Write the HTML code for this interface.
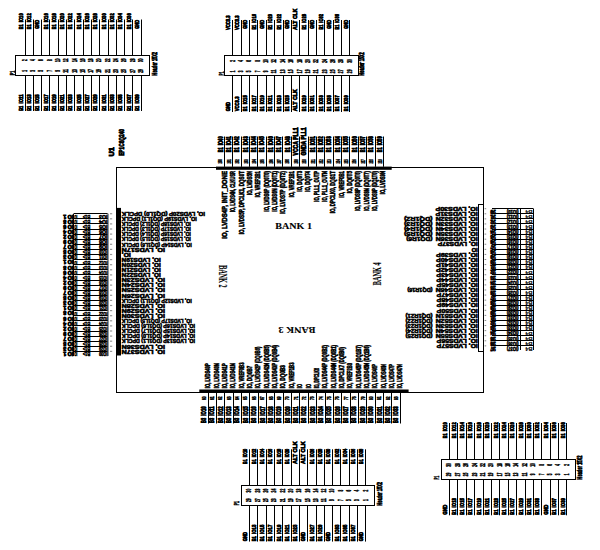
<!DOCTYPE html>
<html><head><meta charset="utf-8"><title>schematic</title>
<style>
html,body{margin:0;padding:0;background:#fff;width:600px;height:550px;overflow:hidden}
svg{display:block}
text{font-family:"Liberation Sans",sans-serif;font-weight:bold;fill:#000}
text.t{stroke:#000;stroke-width:0.8}
text.s{stroke:#000;stroke-width:0.5}
text.r{stroke:#000;stroke-width:0.15}
text.m{stroke:#000;stroke-width:0.6}
text.n{fill:#000;stroke:#000;stroke-width:0.5}
text.b{font-family:"Liberation Serif",serif;font-weight:bold;stroke:#000;stroke-width:0.1}
</style></head><body>
<svg width="600" height="550" viewBox="0 0 600 550">
<rect x="0" y="0" width="600" height="550" fill="#fff"/>
<rect x="15.5" y="55.5" width="134" height="20" fill="none" stroke="#000" stroke-width="1"/>
<line x1="25.5" y1="19.5" x2="25.5" y2="55.3" stroke="#000" stroke-width="1"/>
<line x1="25.5" y1="75.5" x2="25.5" y2="111" stroke="#000" stroke-width="1"/>
<line x1="33.5" y1="19.5" x2="33.5" y2="55.3" stroke="#000" stroke-width="1"/>
<line x1="33.5" y1="75.5" x2="33.5" y2="111" stroke="#000" stroke-width="1"/>
<line x1="41.5" y1="19.5" x2="41.5" y2="55.3" stroke="#000" stroke-width="1"/>
<line x1="41.5" y1="75.5" x2="41.5" y2="111" stroke="#000" stroke-width="1"/>
<line x1="49.5" y1="19.5" x2="49.5" y2="55.3" stroke="#000" stroke-width="1"/>
<line x1="49.5" y1="75.5" x2="49.5" y2="111" stroke="#000" stroke-width="1"/>
<line x1="58.5" y1="19.5" x2="58.5" y2="55.3" stroke="#000" stroke-width="1"/>
<line x1="58.5" y1="75.5" x2="58.5" y2="111" stroke="#000" stroke-width="1"/>
<line x1="66.5" y1="19.5" x2="66.5" y2="55.3" stroke="#000" stroke-width="1"/>
<line x1="66.5" y1="75.5" x2="66.5" y2="111" stroke="#000" stroke-width="1"/>
<line x1="74.5" y1="19.5" x2="74.5" y2="55.3" stroke="#000" stroke-width="1"/>
<line x1="74.5" y1="75.5" x2="74.5" y2="111" stroke="#000" stroke-width="1"/>
<line x1="83.5" y1="19.5" x2="83.5" y2="55.3" stroke="#000" stroke-width="1"/>
<line x1="83.5" y1="75.5" x2="83.5" y2="111" stroke="#000" stroke-width="1"/>
<line x1="91.5" y1="19.5" x2="91.5" y2="55.3" stroke="#000" stroke-width="1"/>
<line x1="91.5" y1="75.5" x2="91.5" y2="111" stroke="#000" stroke-width="1"/>
<line x1="99.5" y1="19.5" x2="99.5" y2="55.3" stroke="#000" stroke-width="1"/>
<line x1="99.5" y1="75.5" x2="99.5" y2="111" stroke="#000" stroke-width="1"/>
<line x1="108.5" y1="19.5" x2="108.5" y2="55.3" stroke="#000" stroke-width="1"/>
<line x1="108.5" y1="75.5" x2="108.5" y2="111" stroke="#000" stroke-width="1"/>
<line x1="116.5" y1="19.5" x2="116.5" y2="55.3" stroke="#000" stroke-width="1"/>
<line x1="116.5" y1="75.5" x2="116.5" y2="111" stroke="#000" stroke-width="1"/>
<line x1="124.5" y1="19.5" x2="124.5" y2="55.3" stroke="#000" stroke-width="1"/>
<line x1="124.5" y1="75.5" x2="124.5" y2="111" stroke="#000" stroke-width="1"/>
<line x1="132.5" y1="19.5" x2="132.5" y2="55.3" stroke="#000" stroke-width="1"/>
<line x1="132.5" y1="75.5" x2="132.5" y2="111" stroke="#000" stroke-width="1"/>
<line x1="141.5" y1="19.5" x2="141.5" y2="55.3" stroke="#000" stroke-width="1"/>
<line x1="141.5" y1="75.5" x2="141.5" y2="111" stroke="#000" stroke-width="1"/>
<text class="t" transform="rotate(-90 20.55 26.82)" x="18.07" y="28.97" font-size="6.14" textLength="4.96" lengthAdjust="spacingAndGlyphs">B1</text>
<text class="t" transform="rotate(-90 20.55 17.78)" x="16.07" y="19.93" font-size="6.14" textLength="8.96" lengthAdjust="spacingAndGlyphs">IO10</text>
<text class="t" transform="rotate(-90 20.55 108.24)" x="17.99" y="110.39" font-size="6.14" textLength="5.11" lengthAdjust="spacingAndGlyphs">B1</text>
<text class="t" transform="rotate(-90 20.55 98.92)" x="15.93" y="101.07" font-size="6.14" textLength="9.24" lengthAdjust="spacingAndGlyphs">IO11</text>
<text class="t" transform="rotate(-90 28.85 26.82)" x="26.37" y="28.97" font-size="6.14" textLength="4.96" lengthAdjust="spacingAndGlyphs">B1</text>
<text class="t" transform="rotate(-90 28.85 17.78)" x="24.37" y="19.93" font-size="6.14" textLength="8.96" lengthAdjust="spacingAndGlyphs">IO12</text>
<text class="t" transform="rotate(-90 28.85 108.24)" x="26.29" y="110.39" font-size="6.14" textLength="5.11" lengthAdjust="spacingAndGlyphs">B1</text>
<text class="t" transform="rotate(-90 28.85 98.92)" x="24.23" y="101.07" font-size="6.14" textLength="9.24" lengthAdjust="spacingAndGlyphs">IO13</text>
<text class="t" transform="rotate(-90 37.15 24.35)" x="32.8" y="26.5" font-size="6.14" textLength="8.7" lengthAdjust="spacingAndGlyphs">GND</text>
<text class="t" transform="rotate(-90 37.15 108.24)" x="34.59" y="110.39" font-size="6.14" textLength="5.11" lengthAdjust="spacingAndGlyphs">B1</text>
<text class="t" transform="rotate(-90 37.15 98.92)" x="32.53" y="101.07" font-size="6.14" textLength="9.24" lengthAdjust="spacingAndGlyphs">IO15</text>
<text class="t" transform="rotate(-90 45.45 26.82)" x="42.97" y="28.97" font-size="6.14" textLength="4.96" lengthAdjust="spacingAndGlyphs">B1</text>
<text class="t" transform="rotate(-90 45.45 17.78)" x="40.97" y="19.93" font-size="6.14" textLength="8.96" lengthAdjust="spacingAndGlyphs">IO16</text>
<text class="t" transform="rotate(-90 45.45 108.24)" x="42.89" y="110.39" font-size="6.14" textLength="5.11" lengthAdjust="spacingAndGlyphs">B1</text>
<text class="t" transform="rotate(-90 45.45 98.92)" x="40.83" y="101.07" font-size="6.14" textLength="9.24" lengthAdjust="spacingAndGlyphs">IO17</text>
<text class="t" transform="rotate(-90 53.75 26.82)" x="51.27" y="28.97" font-size="6.14" textLength="4.96" lengthAdjust="spacingAndGlyphs">B1</text>
<text class="t" transform="rotate(-90 53.75 17.78)" x="49.27" y="19.93" font-size="6.14" textLength="8.96" lengthAdjust="spacingAndGlyphs">IO18</text>
<text class="t" transform="rotate(-90 53.75 108.24)" x="51.19" y="110.39" font-size="6.14" textLength="5.11" lengthAdjust="spacingAndGlyphs">B1</text>
<text class="t" transform="rotate(-90 53.75 98.92)" x="49.13" y="101.07" font-size="6.14" textLength="9.24" lengthAdjust="spacingAndGlyphs">IO19</text>
<text class="t" transform="rotate(-90 62.05 26.82)" x="59.57" y="28.97" font-size="6.14" textLength="4.96" lengthAdjust="spacingAndGlyphs">B1</text>
<text class="t" transform="rotate(-90 62.05 17.78)" x="57.57" y="19.93" font-size="6.14" textLength="8.96" lengthAdjust="spacingAndGlyphs">IO20</text>
<text class="t" transform="rotate(-90 62.05 108.24)" x="59.49" y="110.39" font-size="6.14" textLength="5.11" lengthAdjust="spacingAndGlyphs">B1</text>
<text class="t" transform="rotate(-90 62.05 98.92)" x="57.43" y="101.07" font-size="6.14" textLength="9.24" lengthAdjust="spacingAndGlyphs">IO21</text>
<text class="t" transform="rotate(-90 70.35 26.82)" x="67.87" y="28.97" font-size="6.14" textLength="4.96" lengthAdjust="spacingAndGlyphs">B1</text>
<text class="t" transform="rotate(-90 70.35 17.78)" x="65.87" y="19.93" font-size="6.14" textLength="8.96" lengthAdjust="spacingAndGlyphs">IO22</text>
<text class="t" transform="rotate(-90 70.35 108.24)" x="67.79" y="110.39" font-size="6.14" textLength="5.11" lengthAdjust="spacingAndGlyphs">B1</text>
<text class="t" transform="rotate(-90 70.35 98.92)" x="65.73" y="101.07" font-size="6.14" textLength="9.24" lengthAdjust="spacingAndGlyphs">IO23</text>
<text class="t" transform="rotate(-90 78.65 26.82)" x="76.17" y="28.97" font-size="6.14" textLength="4.96" lengthAdjust="spacingAndGlyphs">B1</text>
<text class="t" transform="rotate(-90 78.65 17.78)" x="74.17" y="19.93" font-size="6.14" textLength="8.96" lengthAdjust="spacingAndGlyphs">IO24</text>
<text class="t" transform="rotate(-90 78.65 108.24)" x="76.09" y="110.39" font-size="6.14" textLength="5.11" lengthAdjust="spacingAndGlyphs">B1</text>
<text class="t" transform="rotate(-90 78.65 98.92)" x="74.03" y="101.07" font-size="6.14" textLength="9.24" lengthAdjust="spacingAndGlyphs">IO25</text>
<text class="t" transform="rotate(-90 86.95 26.82)" x="84.47" y="28.97" font-size="6.14" textLength="4.96" lengthAdjust="spacingAndGlyphs">B1</text>
<text class="t" transform="rotate(-90 86.95 17.78)" x="82.47" y="19.93" font-size="6.14" textLength="8.96" lengthAdjust="spacingAndGlyphs">IO26</text>
<text class="t" transform="rotate(-90 86.95 108.24)" x="84.39" y="110.39" font-size="6.14" textLength="5.11" lengthAdjust="spacingAndGlyphs">B1</text>
<text class="t" transform="rotate(-90 86.95 98.92)" x="82.33" y="101.07" font-size="6.14" textLength="9.24" lengthAdjust="spacingAndGlyphs">IO27</text>
<text class="t" transform="rotate(-90 95.25 26.82)" x="92.77" y="28.97" font-size="6.14" textLength="4.96" lengthAdjust="spacingAndGlyphs">B1</text>
<text class="t" transform="rotate(-90 95.25 17.78)" x="90.77" y="19.93" font-size="6.14" textLength="8.96" lengthAdjust="spacingAndGlyphs">IO28</text>
<text class="t" transform="rotate(-90 95.25 108.24)" x="92.69" y="110.39" font-size="6.14" textLength="5.11" lengthAdjust="spacingAndGlyphs">B1</text>
<text class="t" transform="rotate(-90 95.25 98.92)" x="90.63" y="101.07" font-size="6.14" textLength="9.24" lengthAdjust="spacingAndGlyphs">IO29</text>
<text class="t" transform="rotate(-90 103.55 26.82)" x="101.07" y="28.97" font-size="6.14" textLength="4.96" lengthAdjust="spacingAndGlyphs">B1</text>
<text class="t" transform="rotate(-90 103.55 17.78)" x="99.07" y="19.93" font-size="6.14" textLength="8.96" lengthAdjust="spacingAndGlyphs">IO30</text>
<text class="t" transform="rotate(-90 103.55 108.24)" x="100.99" y="110.39" font-size="6.14" textLength="5.11" lengthAdjust="spacingAndGlyphs">B1</text>
<text class="t" transform="rotate(-90 103.55 98.92)" x="98.93" y="101.07" font-size="6.14" textLength="9.24" lengthAdjust="spacingAndGlyphs">IO31</text>
<text class="t" transform="rotate(-90 111.85 26.82)" x="109.37" y="28.97" font-size="6.14" textLength="4.96" lengthAdjust="spacingAndGlyphs">B1</text>
<text class="t" transform="rotate(-90 111.85 17.78)" x="107.37" y="19.93" font-size="6.14" textLength="8.96" lengthAdjust="spacingAndGlyphs">IO32</text>
<text class="t" transform="rotate(-90 111.85 108.24)" x="109.29" y="110.39" font-size="6.14" textLength="5.11" lengthAdjust="spacingAndGlyphs">B1</text>
<text class="t" transform="rotate(-90 111.85 98.92)" x="107.23" y="101.07" font-size="6.14" textLength="9.24" lengthAdjust="spacingAndGlyphs">IO33</text>
<text class="t" transform="rotate(-90 120.15 26.82)" x="117.67" y="28.97" font-size="6.14" textLength="4.96" lengthAdjust="spacingAndGlyphs">B1</text>
<text class="t" transform="rotate(-90 120.15 17.78)" x="115.67" y="19.93" font-size="6.14" textLength="8.96" lengthAdjust="spacingAndGlyphs">IO34</text>
<text class="t" transform="rotate(-90 120.15 108.24)" x="117.59" y="110.39" font-size="6.14" textLength="5.11" lengthAdjust="spacingAndGlyphs">B1</text>
<text class="t" transform="rotate(-90 120.15 98.92)" x="115.53" y="101.07" font-size="6.14" textLength="9.24" lengthAdjust="spacingAndGlyphs">IO35</text>
<text class="t" transform="rotate(-90 128.45 26.82)" x="125.97" y="28.97" font-size="6.14" textLength="4.96" lengthAdjust="spacingAndGlyphs">B1</text>
<text class="t" transform="rotate(-90 128.45 17.78)" x="123.97" y="19.93" font-size="6.14" textLength="8.96" lengthAdjust="spacingAndGlyphs">IO36</text>
<text class="t" transform="rotate(-90 128.45 108.24)" x="125.89" y="110.39" font-size="6.14" textLength="5.11" lengthAdjust="spacingAndGlyphs">B1</text>
<text class="t" transform="rotate(-90 128.45 98.92)" x="123.83" y="101.07" font-size="6.14" textLength="9.24" lengthAdjust="spacingAndGlyphs">IO37</text>
<text class="t" transform="rotate(-90 136.75 24.35)" x="132.4" y="26.5" font-size="6.14" textLength="8.7" lengthAdjust="spacingAndGlyphs">GND</text>
<text class="t" transform="rotate(-90 136.75 108.24)" x="134.19" y="110.39" font-size="6.14" textLength="5.11" lengthAdjust="spacingAndGlyphs">B1</text>
<text class="t" transform="rotate(-90 136.75 98.92)" x="132.13" y="101.07" font-size="6.14" textLength="9.24" lengthAdjust="spacingAndGlyphs">IO39</text>
<text class="n" transform="rotate(-90 24.45 60.2)" x="23.6" y="62.55" font-size="6.71" textLength="1.7" lengthAdjust="spacingAndGlyphs">2</text>
<text class="n" transform="rotate(-90 24.45 71)" x="23.6" y="73.35" font-size="6.71" textLength="1.7" lengthAdjust="spacingAndGlyphs">1</text>
<text class="n" transform="rotate(-90 32.75 60.2)" x="31.9" y="62.55" font-size="6.71" textLength="1.7" lengthAdjust="spacingAndGlyphs">4</text>
<text class="n" transform="rotate(-90 32.75 71)" x="31.9" y="73.35" font-size="6.71" textLength="1.7" lengthAdjust="spacingAndGlyphs">3</text>
<text class="n" transform="rotate(-90 41.05 60.2)" x="40.2" y="62.55" font-size="6.71" textLength="1.7" lengthAdjust="spacingAndGlyphs">6</text>
<text class="n" transform="rotate(-90 41.05 71)" x="40.2" y="73.35" font-size="6.71" textLength="1.7" lengthAdjust="spacingAndGlyphs">5</text>
<text class="n" transform="rotate(-90 49.35 60.2)" x="48.5" y="62.55" font-size="6.71" textLength="1.7" lengthAdjust="spacingAndGlyphs">8</text>
<text class="n" transform="rotate(-90 49.35 71)" x="48.5" y="73.35" font-size="6.71" textLength="1.7" lengthAdjust="spacingAndGlyphs">7</text>
<text class="n" transform="rotate(-90 57.65 60.2)" x="55.8" y="62.55" font-size="6.71" textLength="3.7" lengthAdjust="spacingAndGlyphs">10</text>
<text class="n" transform="rotate(-90 57.65 71)" x="56.8" y="73.35" font-size="6.71" textLength="1.7" lengthAdjust="spacingAndGlyphs">9</text>
<text class="n" transform="rotate(-90 65.95 60.2)" x="64.1" y="62.55" font-size="6.71" textLength="3.7" lengthAdjust="spacingAndGlyphs">12</text>
<text class="n" transform="rotate(-90 65.95 71)" x="64.1" y="73.35" font-size="6.71" textLength="3.7" lengthAdjust="spacingAndGlyphs">11</text>
<text class="n" transform="rotate(-90 74.25 60.2)" x="72.4" y="62.55" font-size="6.71" textLength="3.7" lengthAdjust="spacingAndGlyphs">14</text>
<text class="n" transform="rotate(-90 74.25 71)" x="72.4" y="73.35" font-size="6.71" textLength="3.7" lengthAdjust="spacingAndGlyphs">13</text>
<text class="n" transform="rotate(-90 82.55 60.2)" x="80.7" y="62.55" font-size="6.71" textLength="3.7" lengthAdjust="spacingAndGlyphs">16</text>
<text class="n" transform="rotate(-90 82.55 71)" x="80.7" y="73.35" font-size="6.71" textLength="3.7" lengthAdjust="spacingAndGlyphs">15</text>
<text class="n" transform="rotate(-90 90.85 60.2)" x="89" y="62.55" font-size="6.71" textLength="3.7" lengthAdjust="spacingAndGlyphs">18</text>
<text class="n" transform="rotate(-90 90.85 71)" x="89" y="73.35" font-size="6.71" textLength="3.7" lengthAdjust="spacingAndGlyphs">17</text>
<text class="n" transform="rotate(-90 99.15 60.2)" x="97.3" y="62.55" font-size="6.71" textLength="3.7" lengthAdjust="spacingAndGlyphs">20</text>
<text class="n" transform="rotate(-90 99.15 71)" x="97.3" y="73.35" font-size="6.71" textLength="3.7" lengthAdjust="spacingAndGlyphs">19</text>
<text class="n" transform="rotate(-90 107.45 60.2)" x="105.6" y="62.55" font-size="6.71" textLength="3.7" lengthAdjust="spacingAndGlyphs">22</text>
<text class="n" transform="rotate(-90 107.45 71)" x="105.6" y="73.35" font-size="6.71" textLength="3.7" lengthAdjust="spacingAndGlyphs">21</text>
<text class="n" transform="rotate(-90 115.75 60.2)" x="113.9" y="62.55" font-size="6.71" textLength="3.7" lengthAdjust="spacingAndGlyphs">24</text>
<text class="n" transform="rotate(-90 115.75 71)" x="113.9" y="73.35" font-size="6.71" textLength="3.7" lengthAdjust="spacingAndGlyphs">23</text>
<text class="n" transform="rotate(-90 124.05 60.2)" x="122.2" y="62.55" font-size="6.71" textLength="3.7" lengthAdjust="spacingAndGlyphs">26</text>
<text class="n" transform="rotate(-90 124.05 71)" x="122.2" y="73.35" font-size="6.71" textLength="3.7" lengthAdjust="spacingAndGlyphs">25</text>
<text class="n" transform="rotate(-90 132.35 60.2)" x="130.5" y="62.55" font-size="6.71" textLength="3.7" lengthAdjust="spacingAndGlyphs">28</text>
<text class="n" transform="rotate(-90 132.35 71)" x="130.5" y="73.35" font-size="6.71" textLength="3.7" lengthAdjust="spacingAndGlyphs">27</text>
<text class="n" transform="rotate(-90 140.65 60.2)" x="138.8" y="62.55" font-size="6.71" textLength="3.7" lengthAdjust="spacingAndGlyphs">30</text>
<text class="n" transform="rotate(-90 140.65 71)" x="138.8" y="73.35" font-size="6.71" textLength="3.7" lengthAdjust="spacingAndGlyphs">29</text>
<text class="n" transform="rotate(-90 12.4 73)" x="10.2" y="75.2" font-size="6.29" textLength="4.4" lengthAdjust="spacingAndGlyphs">P1</text>
<text class="t" transform="rotate(-90 154.3 63.7)" x="142.6" y="66.2" font-size="7.14" textLength="23.4" lengthAdjust="spacingAndGlyphs">Header 15X2</text>
<rect x="224.5" y="55.5" width="134" height="20" fill="none" stroke="#000" stroke-width="1"/>
<line x1="232.5" y1="20" x2="232.5" y2="55.7" stroke="#000" stroke-width="1"/>
<line x1="232.5" y1="75.7" x2="232.5" y2="112" stroke="#000" stroke-width="1"/>
<line x1="241.5" y1="20" x2="241.5" y2="55.7" stroke="#000" stroke-width="1"/>
<line x1="241.5" y1="75.7" x2="241.5" y2="112" stroke="#000" stroke-width="1"/>
<line x1="249.5" y1="20" x2="249.5" y2="55.7" stroke="#000" stroke-width="1"/>
<line x1="249.5" y1="75.7" x2="249.5" y2="112" stroke="#000" stroke-width="1"/>
<line x1="257.5" y1="20" x2="257.5" y2="55.7" stroke="#000" stroke-width="1"/>
<line x1="257.5" y1="75.7" x2="257.5" y2="112" stroke="#000" stroke-width="1"/>
<line x1="266.5" y1="20" x2="266.5" y2="55.7" stroke="#000" stroke-width="1"/>
<line x1="266.5" y1="75.7" x2="266.5" y2="112" stroke="#000" stroke-width="1"/>
<line x1="274.5" y1="20" x2="274.5" y2="55.7" stroke="#000" stroke-width="1"/>
<line x1="274.5" y1="75.7" x2="274.5" y2="112" stroke="#000" stroke-width="1"/>
<line x1="283.5" y1="20" x2="283.5" y2="55.7" stroke="#000" stroke-width="1"/>
<line x1="283.5" y1="75.7" x2="283.5" y2="112" stroke="#000" stroke-width="1"/>
<line x1="291.5" y1="20" x2="291.5" y2="55.7" stroke="#000" stroke-width="1"/>
<line x1="291.5" y1="75.7" x2="291.5" y2="112" stroke="#000" stroke-width="1"/>
<line x1="299.5" y1="20" x2="299.5" y2="55.7" stroke="#000" stroke-width="1"/>
<line x1="299.5" y1="75.7" x2="299.5" y2="112" stroke="#000" stroke-width="1"/>
<line x1="308.5" y1="20" x2="308.5" y2="55.7" stroke="#000" stroke-width="1"/>
<line x1="308.5" y1="75.7" x2="308.5" y2="112" stroke="#000" stroke-width="1"/>
<line x1="316.5" y1="20" x2="316.5" y2="55.7" stroke="#000" stroke-width="1"/>
<line x1="316.5" y1="75.7" x2="316.5" y2="112" stroke="#000" stroke-width="1"/>
<line x1="324.5" y1="20" x2="324.5" y2="55.7" stroke="#000" stroke-width="1"/>
<line x1="324.5" y1="75.7" x2="324.5" y2="112" stroke="#000" stroke-width="1"/>
<line x1="333.5" y1="20" x2="333.5" y2="55.7" stroke="#000" stroke-width="1"/>
<line x1="333.5" y1="75.7" x2="333.5" y2="112" stroke="#000" stroke-width="1"/>
<line x1="341.5" y1="20" x2="341.5" y2="55.7" stroke="#000" stroke-width="1"/>
<line x1="341.5" y1="75.7" x2="341.5" y2="112" stroke="#000" stroke-width="1"/>
<line x1="349.5" y1="20" x2="349.5" y2="55.7" stroke="#000" stroke-width="1"/>
<line x1="349.5" y1="75.7" x2="349.5" y2="112" stroke="#000" stroke-width="1"/>
<text class="t" transform="rotate(-90 228.35 22.65)" x="221" y="24.8" font-size="6.14" textLength="14.7" lengthAdjust="spacingAndGlyphs">VCC3.3</text>
<text class="t" transform="rotate(-90 228.35 106.65)" x="223.7" y="108.8" font-size="6.14" textLength="9.3" lengthAdjust="spacingAndGlyphs">GND</text>
<text class="t" transform="rotate(-90 236.72 22.65)" x="229.37" y="24.8" font-size="6.14" textLength="14.7" lengthAdjust="spacingAndGlyphs">VCC3.3</text>
<text class="t" transform="rotate(-90 236.72 103.9)" x="229.32" y="106.05" font-size="6.14" textLength="14.8" lengthAdjust="spacingAndGlyphs">VCC3.3</text>
<text class="t" transform="rotate(-90 245.09 24.35)" x="240.74" y="26.5" font-size="6.14" textLength="8.7" lengthAdjust="spacingAndGlyphs">GND</text>
<text class="t" transform="rotate(-90 245.09 108.82)" x="242.61" y="110.97" font-size="6.14" textLength="4.96" lengthAdjust="spacingAndGlyphs">B1</text>
<text class="t" transform="rotate(-90 245.09 99.78)" x="240.61" y="101.93" font-size="6.14" textLength="8.96" lengthAdjust="spacingAndGlyphs">IO15</text>
<text class="t" transform="rotate(-90 253.46 27.18)" x="251.04" y="29.33" font-size="6.14" textLength="4.84" lengthAdjust="spacingAndGlyphs">B1</text>
<text class="t" transform="rotate(-90 253.46 18.37)" x="249.09" y="20.52" font-size="6.14" textLength="8.74" lengthAdjust="spacingAndGlyphs">IO16</text>
<text class="t" transform="rotate(-90 253.46 108.82)" x="250.98" y="110.97" font-size="6.14" textLength="4.96" lengthAdjust="spacingAndGlyphs">B1</text>
<text class="t" transform="rotate(-90 253.46 99.78)" x="248.98" y="101.93" font-size="6.14" textLength="8.96" lengthAdjust="spacingAndGlyphs">IO17</text>
<text class="t" transform="rotate(-90 261.83 24.35)" x="257.48" y="26.5" font-size="6.14" textLength="8.7" lengthAdjust="spacingAndGlyphs">GND</text>
<text class="t" transform="rotate(-90 261.83 108.82)" x="259.35" y="110.97" font-size="6.14" textLength="4.96" lengthAdjust="spacingAndGlyphs">B1</text>
<text class="t" transform="rotate(-90 261.83 99.78)" x="257.35" y="101.93" font-size="6.14" textLength="8.96" lengthAdjust="spacingAndGlyphs">IO19</text>
<text class="t" transform="rotate(-90 270.2 27.18)" x="267.78" y="29.33" font-size="6.14" textLength="4.84" lengthAdjust="spacingAndGlyphs">B1</text>
<text class="t" transform="rotate(-90 270.2 18.37)" x="265.83" y="20.52" font-size="6.14" textLength="8.74" lengthAdjust="spacingAndGlyphs">IO20</text>
<text class="t" transform="rotate(-90 270.2 108.82)" x="267.72" y="110.97" font-size="6.14" textLength="4.96" lengthAdjust="spacingAndGlyphs">B1</text>
<text class="t" transform="rotate(-90 270.2 99.78)" x="265.72" y="101.93" font-size="6.14" textLength="8.96" lengthAdjust="spacingAndGlyphs">IO21</text>
<text class="t" transform="rotate(-90 278.57 27.18)" x="276.15" y="29.33" font-size="6.14" textLength="4.84" lengthAdjust="spacingAndGlyphs">B1</text>
<text class="t" transform="rotate(-90 278.57 18.37)" x="274.2" y="20.52" font-size="6.14" textLength="8.74" lengthAdjust="spacingAndGlyphs">IO22</text>
<text class="t" transform="rotate(-90 278.57 108.82)" x="276.09" y="110.97" font-size="6.14" textLength="4.96" lengthAdjust="spacingAndGlyphs">B1</text>
<text class="t" transform="rotate(-90 278.57 99.78)" x="274.09" y="101.93" font-size="6.14" textLength="8.96" lengthAdjust="spacingAndGlyphs">IO23</text>
<text class="t" transform="rotate(-90 286.94 24.35)" x="282.59" y="26.5" font-size="6.14" textLength="8.7" lengthAdjust="spacingAndGlyphs">GND</text>
<text class="t" transform="rotate(-90 286.94 108.82)" x="284.46" y="110.97" font-size="6.14" textLength="4.96" lengthAdjust="spacingAndGlyphs">B1</text>
<text class="t" transform="rotate(-90 286.94 99.78)" x="282.46" y="101.93" font-size="6.14" textLength="8.96" lengthAdjust="spacingAndGlyphs">IO25</text>
<text class="t" transform="rotate(-90 295.31 19.35)" x="284.66" y="21.5" font-size="6.14" textLength="21.3" lengthAdjust="spacingAndGlyphs">ALT CLK</text>
<text class="t" transform="rotate(-90 295.31 100.3)" x="284.31" y="102.45" font-size="6.14" textLength="22" lengthAdjust="spacingAndGlyphs">ALT CLK</text>
<text class="t" transform="rotate(-90 303.68 27.18)" x="301.26" y="29.33" font-size="6.14" textLength="4.84" lengthAdjust="spacingAndGlyphs">B1</text>
<text class="t" transform="rotate(-90 303.68 18.37)" x="299.31" y="20.52" font-size="6.14" textLength="8.74" lengthAdjust="spacingAndGlyphs">IO28</text>
<text class="t" transform="rotate(-90 303.68 108.82)" x="301.2" y="110.97" font-size="6.14" textLength="4.96" lengthAdjust="spacingAndGlyphs">B1</text>
<text class="t" transform="rotate(-90 303.68 99.78)" x="299.2" y="101.93" font-size="6.14" textLength="8.96" lengthAdjust="spacingAndGlyphs">IO29</text>
<text class="t" transform="rotate(-90 312.05 24.35)" x="307.7" y="26.5" font-size="6.14" textLength="8.7" lengthAdjust="spacingAndGlyphs">GND</text>
<text class="t" transform="rotate(-90 312.05 108.82)" x="309.57" y="110.97" font-size="6.14" textLength="4.96" lengthAdjust="spacingAndGlyphs">B1</text>
<text class="t" transform="rotate(-90 312.05 99.78)" x="307.57" y="101.93" font-size="6.14" textLength="8.96" lengthAdjust="spacingAndGlyphs">IO31</text>
<text class="t" transform="rotate(-90 320.42 27.18)" x="318" y="29.33" font-size="6.14" textLength="4.84" lengthAdjust="spacingAndGlyphs">B1</text>
<text class="t" transform="rotate(-90 320.42 18.37)" x="316.05" y="20.52" font-size="6.14" textLength="8.74" lengthAdjust="spacingAndGlyphs">IO32</text>
<text class="t" transform="rotate(-90 320.42 108.82)" x="317.94" y="110.97" font-size="6.14" textLength="4.96" lengthAdjust="spacingAndGlyphs">B1</text>
<text class="t" transform="rotate(-90 320.42 99.78)" x="315.94" y="101.93" font-size="6.14" textLength="8.96" lengthAdjust="spacingAndGlyphs">IO33</text>
<text class="t" transform="rotate(-90 328.79 24.35)" x="324.44" y="26.5" font-size="6.14" textLength="8.7" lengthAdjust="spacingAndGlyphs">GND</text>
<text class="t" transform="rotate(-90 328.79 108.82)" x="326.31" y="110.97" font-size="6.14" textLength="4.96" lengthAdjust="spacingAndGlyphs">B1</text>
<text class="t" transform="rotate(-90 328.79 99.78)" x="324.31" y="101.93" font-size="6.14" textLength="8.96" lengthAdjust="spacingAndGlyphs">IO35</text>
<text class="t" transform="rotate(-90 337.16 27.18)" x="334.74" y="29.33" font-size="6.14" textLength="4.84" lengthAdjust="spacingAndGlyphs">B1</text>
<text class="t" transform="rotate(-90 337.16 18.37)" x="332.79" y="20.52" font-size="6.14" textLength="8.74" lengthAdjust="spacingAndGlyphs">IO36</text>
<text class="t" transform="rotate(-90 337.16 108.82)" x="334.68" y="110.97" font-size="6.14" textLength="4.96" lengthAdjust="spacingAndGlyphs">B1</text>
<text class="t" transform="rotate(-90 337.16 99.78)" x="332.68" y="101.93" font-size="6.14" textLength="8.96" lengthAdjust="spacingAndGlyphs">IO37</text>
<text class="t" transform="rotate(-90 345.53 24.35)" x="341.18" y="26.5" font-size="6.14" textLength="8.7" lengthAdjust="spacingAndGlyphs">GND</text>
<text class="t" transform="rotate(-90 345.53 108.82)" x="343.05" y="110.97" font-size="6.14" textLength="4.96" lengthAdjust="spacingAndGlyphs">B1</text>
<text class="t" transform="rotate(-90 345.53 99.78)" x="341.05" y="101.93" font-size="6.14" textLength="8.96" lengthAdjust="spacingAndGlyphs">IO39</text>
<text class="n" transform="rotate(-90 232.25 61)" x="231.4" y="63.35" font-size="6.71" textLength="1.7" lengthAdjust="spacingAndGlyphs">2</text>
<text class="n" transform="rotate(-90 232.25 71.3)" x="231.4" y="73.65" font-size="6.71" textLength="1.7" lengthAdjust="spacingAndGlyphs">1</text>
<text class="n" transform="rotate(-90 240.62 61)" x="239.77" y="63.35" font-size="6.71" textLength="1.7" lengthAdjust="spacingAndGlyphs">4</text>
<text class="n" transform="rotate(-90 240.62 71.3)" x="239.77" y="73.65" font-size="6.71" textLength="1.7" lengthAdjust="spacingAndGlyphs">3</text>
<text class="n" transform="rotate(-90 248.99 61)" x="248.14" y="63.35" font-size="6.71" textLength="1.7" lengthAdjust="spacingAndGlyphs">6</text>
<text class="n" transform="rotate(-90 248.99 71.3)" x="248.14" y="73.65" font-size="6.71" textLength="1.7" lengthAdjust="spacingAndGlyphs">5</text>
<text class="n" transform="rotate(-90 257.36 61)" x="256.51" y="63.35" font-size="6.71" textLength="1.7" lengthAdjust="spacingAndGlyphs">8</text>
<text class="n" transform="rotate(-90 257.36 71.3)" x="256.51" y="73.65" font-size="6.71" textLength="1.7" lengthAdjust="spacingAndGlyphs">7</text>
<text class="n" transform="rotate(-90 265.73 61)" x="263.88" y="63.35" font-size="6.71" textLength="3.7" lengthAdjust="spacingAndGlyphs">10</text>
<text class="n" transform="rotate(-90 265.73 71.3)" x="264.88" y="73.65" font-size="6.71" textLength="1.7" lengthAdjust="spacingAndGlyphs">9</text>
<text class="n" transform="rotate(-90 274.1 61)" x="272.25" y="63.35" font-size="6.71" textLength="3.7" lengthAdjust="spacingAndGlyphs">12</text>
<text class="n" transform="rotate(-90 274.1 71.3)" x="272.25" y="73.65" font-size="6.71" textLength="3.7" lengthAdjust="spacingAndGlyphs">11</text>
<text class="n" transform="rotate(-90 282.47 61)" x="280.62" y="63.35" font-size="6.71" textLength="3.7" lengthAdjust="spacingAndGlyphs">14</text>
<text class="n" transform="rotate(-90 282.47 71.3)" x="280.62" y="73.65" font-size="6.71" textLength="3.7" lengthAdjust="spacingAndGlyphs">13</text>
<text class="n" transform="rotate(-90 290.84 61)" x="288.99" y="63.35" font-size="6.71" textLength="3.7" lengthAdjust="spacingAndGlyphs">16</text>
<text class="n" transform="rotate(-90 290.84 71.3)" x="288.99" y="73.65" font-size="6.71" textLength="3.7" lengthAdjust="spacingAndGlyphs">15</text>
<text class="n" transform="rotate(-90 299.21 61)" x="297.36" y="63.35" font-size="6.71" textLength="3.7" lengthAdjust="spacingAndGlyphs">18</text>
<text class="n" transform="rotate(-90 299.21 71.3)" x="297.36" y="73.65" font-size="6.71" textLength="3.7" lengthAdjust="spacingAndGlyphs">17</text>
<text class="n" transform="rotate(-90 307.58 61)" x="305.73" y="63.35" font-size="6.71" textLength="3.7" lengthAdjust="spacingAndGlyphs">20</text>
<text class="n" transform="rotate(-90 307.58 71.3)" x="305.73" y="73.65" font-size="6.71" textLength="3.7" lengthAdjust="spacingAndGlyphs">19</text>
<text class="n" transform="rotate(-90 315.95 61)" x="314.1" y="63.35" font-size="6.71" textLength="3.7" lengthAdjust="spacingAndGlyphs">22</text>
<text class="n" transform="rotate(-90 315.95 71.3)" x="314.1" y="73.65" font-size="6.71" textLength="3.7" lengthAdjust="spacingAndGlyphs">21</text>
<text class="n" transform="rotate(-90 324.32 61)" x="322.47" y="63.35" font-size="6.71" textLength="3.7" lengthAdjust="spacingAndGlyphs">24</text>
<text class="n" transform="rotate(-90 324.32 71.3)" x="322.47" y="73.65" font-size="6.71" textLength="3.7" lengthAdjust="spacingAndGlyphs">23</text>
<text class="n" transform="rotate(-90 332.69 61)" x="330.84" y="63.35" font-size="6.71" textLength="3.7" lengthAdjust="spacingAndGlyphs">26</text>
<text class="n" transform="rotate(-90 332.69 71.3)" x="330.84" y="73.65" font-size="6.71" textLength="3.7" lengthAdjust="spacingAndGlyphs">25</text>
<text class="n" transform="rotate(-90 341.06 61)" x="339.21" y="63.35" font-size="6.71" textLength="3.7" lengthAdjust="spacingAndGlyphs">28</text>
<text class="n" transform="rotate(-90 341.06 71.3)" x="339.21" y="73.65" font-size="6.71" textLength="3.7" lengthAdjust="spacingAndGlyphs">27</text>
<text class="n" transform="rotate(-90 349.43 61)" x="347.58" y="63.35" font-size="6.71" textLength="3.7" lengthAdjust="spacingAndGlyphs">30</text>
<text class="n" transform="rotate(-90 349.43 71.3)" x="347.58" y="73.65" font-size="6.71" textLength="3.7" lengthAdjust="spacingAndGlyphs">29</text>
<text class="n" transform="rotate(-90 221.3 73.5)" x="219.3" y="76" font-size="7.14" textLength="4" lengthAdjust="spacingAndGlyphs">P1</text>
<text class="t" transform="rotate(-90 361.9 63.9)" x="350.3" y="66.3" font-size="6.86" textLength="23.2" lengthAdjust="spacingAndGlyphs">Header 15X2</text>
<rect x="241.5" y="485.5" width="133" height="20" fill="none" stroke="#000" stroke-width="1"/>
<line x1="249.5" y1="449.3" x2="249.5" y2="485.2" stroke="#000" stroke-width="1"/>
<line x1="249.5" y1="505.5" x2="249.5" y2="541.6" stroke="#000" stroke-width="1"/>
<line x1="257.5" y1="449.3" x2="257.5" y2="485.2" stroke="#000" stroke-width="1"/>
<line x1="257.5" y1="505.5" x2="257.5" y2="541.6" stroke="#000" stroke-width="1"/>
<line x1="266.5" y1="449.3" x2="266.5" y2="485.2" stroke="#000" stroke-width="1"/>
<line x1="266.5" y1="505.5" x2="266.5" y2="541.6" stroke="#000" stroke-width="1"/>
<line x1="274.5" y1="449.3" x2="274.5" y2="485.2" stroke="#000" stroke-width="1"/>
<line x1="274.5" y1="505.5" x2="274.5" y2="541.6" stroke="#000" stroke-width="1"/>
<line x1="282.5" y1="449.3" x2="282.5" y2="485.2" stroke="#000" stroke-width="1"/>
<line x1="282.5" y1="505.5" x2="282.5" y2="541.6" stroke="#000" stroke-width="1"/>
<line x1="291.5" y1="449.3" x2="291.5" y2="485.2" stroke="#000" stroke-width="1"/>
<line x1="291.5" y1="505.5" x2="291.5" y2="541.6" stroke="#000" stroke-width="1"/>
<line x1="299.5" y1="449.3" x2="299.5" y2="485.2" stroke="#000" stroke-width="1"/>
<line x1="299.5" y1="505.5" x2="299.5" y2="541.6" stroke="#000" stroke-width="1"/>
<line x1="307.5" y1="449.3" x2="307.5" y2="485.2" stroke="#000" stroke-width="1"/>
<line x1="307.5" y1="505.5" x2="307.5" y2="541.6" stroke="#000" stroke-width="1"/>
<line x1="316.5" y1="449.3" x2="316.5" y2="485.2" stroke="#000" stroke-width="1"/>
<line x1="316.5" y1="505.5" x2="316.5" y2="541.6" stroke="#000" stroke-width="1"/>
<line x1="324.5" y1="449.3" x2="324.5" y2="485.2" stroke="#000" stroke-width="1"/>
<line x1="324.5" y1="505.5" x2="324.5" y2="541.6" stroke="#000" stroke-width="1"/>
<line x1="332.5" y1="449.3" x2="332.5" y2="485.2" stroke="#000" stroke-width="1"/>
<line x1="332.5" y1="505.5" x2="332.5" y2="541.6" stroke="#000" stroke-width="1"/>
<line x1="340.5" y1="449.3" x2="340.5" y2="485.2" stroke="#000" stroke-width="1"/>
<line x1="340.5" y1="505.5" x2="340.5" y2="541.6" stroke="#000" stroke-width="1"/>
<line x1="349.5" y1="449.3" x2="349.5" y2="485.2" stroke="#000" stroke-width="1"/>
<line x1="349.5" y1="505.5" x2="349.5" y2="541.6" stroke="#000" stroke-width="1"/>
<line x1="357.5" y1="449.3" x2="357.5" y2="485.2" stroke="#000" stroke-width="1"/>
<line x1="357.5" y1="505.5" x2="357.5" y2="541.6" stroke="#000" stroke-width="1"/>
<line x1="365.5" y1="449.3" x2="365.5" y2="485.2" stroke="#000" stroke-width="1"/>
<line x1="365.5" y1="505.5" x2="365.5" y2="541.6" stroke="#000" stroke-width="1"/>
<text class="t" transform="rotate(-90 245.25 461.63)" x="242.88" y="463.78" font-size="6.14" textLength="4.74" lengthAdjust="spacingAndGlyphs">B1</text>
<text class="t" transform="rotate(-90 245.25 452.98)" x="240.97" y="455.13" font-size="6.14" textLength="8.57" lengthAdjust="spacingAndGlyphs">IO10</text>
<text class="t" transform="rotate(-90 245.25 536.65)" x="240.6" y="538.8" font-size="6.14" textLength="9.3" lengthAdjust="spacingAndGlyphs">GND</text>
<text class="t" transform="rotate(-90 253.54 461.63)" x="251.17" y="463.78" font-size="6.14" textLength="4.74" lengthAdjust="spacingAndGlyphs">B1</text>
<text class="t" transform="rotate(-90 253.54 452.98)" x="249.26" y="455.13" font-size="6.14" textLength="8.57" lengthAdjust="spacingAndGlyphs">IO12</text>
<text class="t" transform="rotate(-90 253.54 538.73)" x="250.97" y="540.88" font-size="6.14" textLength="5.15" lengthAdjust="spacingAndGlyphs">B1</text>
<text class="t" transform="rotate(-90 253.54 529.35)" x="248.89" y="531.5" font-size="6.14" textLength="9.3" lengthAdjust="spacingAndGlyphs">IO13</text>
<text class="t" transform="rotate(-90 261.83 461.63)" x="259.46" y="463.78" font-size="6.14" textLength="4.74" lengthAdjust="spacingAndGlyphs">B1</text>
<text class="t" transform="rotate(-90 261.83 452.98)" x="257.55" y="455.13" font-size="6.14" textLength="8.57" lengthAdjust="spacingAndGlyphs">IO14</text>
<text class="t" transform="rotate(-90 261.83 538.73)" x="259.26" y="540.88" font-size="6.14" textLength="5.15" lengthAdjust="spacingAndGlyphs">B1</text>
<text class="t" transform="rotate(-90 261.83 529.35)" x="257.18" y="531.5" font-size="6.14" textLength="9.3" lengthAdjust="spacingAndGlyphs">IO15</text>
<text class="t" transform="rotate(-90 270.12 461.63)" x="267.75" y="463.78" font-size="6.14" textLength="4.74" lengthAdjust="spacingAndGlyphs">B1</text>
<text class="t" transform="rotate(-90 270.12 452.98)" x="265.84" y="455.13" font-size="6.14" textLength="8.57" lengthAdjust="spacingAndGlyphs">IO16</text>
<text class="t" transform="rotate(-90 270.12 538.73)" x="267.55" y="540.88" font-size="6.14" textLength="5.15" lengthAdjust="spacingAndGlyphs">B1</text>
<text class="t" transform="rotate(-90 270.12 529.35)" x="265.47" y="531.5" font-size="6.14" textLength="9.3" lengthAdjust="spacingAndGlyphs">IO17</text>
<text class="t" transform="rotate(-90 278.41 461.63)" x="276.04" y="463.78" font-size="6.14" textLength="4.74" lengthAdjust="spacingAndGlyphs">B1</text>
<text class="t" transform="rotate(-90 278.41 452.98)" x="274.13" y="455.13" font-size="6.14" textLength="8.57" lengthAdjust="spacingAndGlyphs">IO18</text>
<text class="t" transform="rotate(-90 278.41 538.73)" x="275.84" y="540.88" font-size="6.14" textLength="5.15" lengthAdjust="spacingAndGlyphs">B1</text>
<text class="t" transform="rotate(-90 278.41 529.35)" x="273.76" y="531.5" font-size="6.14" textLength="9.3" lengthAdjust="spacingAndGlyphs">IO19</text>
<text class="t" transform="rotate(-90 286.7 461.63)" x="284.33" y="463.78" font-size="6.14" textLength="4.74" lengthAdjust="spacingAndGlyphs">B1</text>
<text class="t" transform="rotate(-90 286.7 452.98)" x="282.42" y="455.13" font-size="6.14" textLength="8.57" lengthAdjust="spacingAndGlyphs">IO20</text>
<text class="t" transform="rotate(-90 286.7 538.73)" x="284.13" y="540.88" font-size="6.14" textLength="5.15" lengthAdjust="spacingAndGlyphs">B1</text>
<text class="t" transform="rotate(-90 286.7 529.35)" x="282.05" y="531.5" font-size="6.14" textLength="9.3" lengthAdjust="spacingAndGlyphs">IO21</text>
<text class="t" transform="rotate(-90 294.99 452.65)" x="283.64" y="454.8" font-size="6.14" textLength="22.7" lengthAdjust="spacingAndGlyphs">ALT CLK</text>
<text class="t" transform="rotate(-90 294.99 538.73)" x="292.42" y="540.88" font-size="6.14" textLength="5.15" lengthAdjust="spacingAndGlyphs">B1</text>
<text class="t" transform="rotate(-90 294.99 529.35)" x="290.34" y="531.5" font-size="6.14" textLength="9.3" lengthAdjust="spacingAndGlyphs">IO23</text>
<text class="t" transform="rotate(-90 303.28 452.65)" x="291.93" y="454.8" font-size="6.14" textLength="22.7" lengthAdjust="spacingAndGlyphs">ALT CLK</text>
<text class="t" transform="rotate(-90 303.28 536.65)" x="298.63" y="538.8" font-size="6.14" textLength="9.3" lengthAdjust="spacingAndGlyphs">GND</text>
<text class="t" transform="rotate(-90 311.57 461.63)" x="309.2" y="463.78" font-size="6.14" textLength="4.74" lengthAdjust="spacingAndGlyphs">B1</text>
<text class="t" transform="rotate(-90 311.57 452.98)" x="307.29" y="455.13" font-size="6.14" textLength="8.57" lengthAdjust="spacingAndGlyphs">IO26</text>
<text class="t" transform="rotate(-90 311.57 538.73)" x="309" y="540.88" font-size="6.14" textLength="5.15" lengthAdjust="spacingAndGlyphs">B1</text>
<text class="t" transform="rotate(-90 311.57 529.35)" x="306.92" y="531.5" font-size="6.14" textLength="9.3" lengthAdjust="spacingAndGlyphs">IO27</text>
<text class="t" transform="rotate(-90 319.86 461.63)" x="317.49" y="463.78" font-size="6.14" textLength="4.74" lengthAdjust="spacingAndGlyphs">B1</text>
<text class="t" transform="rotate(-90 319.86 452.98)" x="315.58" y="455.13" font-size="6.14" textLength="8.57" lengthAdjust="spacingAndGlyphs">IO28</text>
<text class="t" transform="rotate(-90 319.86 538.73)" x="317.29" y="540.88" font-size="6.14" textLength="5.15" lengthAdjust="spacingAndGlyphs">B1</text>
<text class="t" transform="rotate(-90 319.86 529.35)" x="315.21" y="531.5" font-size="6.14" textLength="9.3" lengthAdjust="spacingAndGlyphs">IO29</text>
<text class="t" transform="rotate(-90 328.15 461.63)" x="325.78" y="463.78" font-size="6.14" textLength="4.74" lengthAdjust="spacingAndGlyphs">B1</text>
<text class="t" transform="rotate(-90 328.15 452.98)" x="323.87" y="455.13" font-size="6.14" textLength="8.57" lengthAdjust="spacingAndGlyphs">IO30</text>
<text class="t" transform="rotate(-90 328.15 536.65)" x="323.5" y="538.8" font-size="6.14" textLength="9.3" lengthAdjust="spacingAndGlyphs">GND</text>
<text class="t" transform="rotate(-90 336.44 461.63)" x="334.07" y="463.78" font-size="6.14" textLength="4.74" lengthAdjust="spacingAndGlyphs">B1</text>
<text class="t" transform="rotate(-90 336.44 452.98)" x="332.16" y="455.13" font-size="6.14" textLength="8.57" lengthAdjust="spacingAndGlyphs">IO32</text>
<text class="t" transform="rotate(-90 336.44 538.73)" x="333.87" y="540.88" font-size="6.14" textLength="5.15" lengthAdjust="spacingAndGlyphs">B1</text>
<text class="t" transform="rotate(-90 336.44 529.35)" x="331.79" y="531.5" font-size="6.14" textLength="9.3" lengthAdjust="spacingAndGlyphs">IO33</text>
<text class="t" transform="rotate(-90 344.73 461.63)" x="342.36" y="463.78" font-size="6.14" textLength="4.74" lengthAdjust="spacingAndGlyphs">B1</text>
<text class="t" transform="rotate(-90 344.73 452.98)" x="340.45" y="455.13" font-size="6.14" textLength="8.57" lengthAdjust="spacingAndGlyphs">IO34</text>
<text class="t" transform="rotate(-90 344.73 538.73)" x="342.16" y="540.88" font-size="6.14" textLength="5.15" lengthAdjust="spacingAndGlyphs">B1</text>
<text class="t" transform="rotate(-90 344.73 529.35)" x="340.08" y="531.5" font-size="6.14" textLength="9.3" lengthAdjust="spacingAndGlyphs">IO35</text>
<text class="t" transform="rotate(-90 353.02 461.63)" x="350.65" y="463.78" font-size="6.14" textLength="4.74" lengthAdjust="spacingAndGlyphs">B1</text>
<text class="t" transform="rotate(-90 353.02 452.98)" x="348.74" y="455.13" font-size="6.14" textLength="8.57" lengthAdjust="spacingAndGlyphs">IO36</text>
<text class="t" transform="rotate(-90 353.02 538.73)" x="350.45" y="540.88" font-size="6.14" textLength="5.15" lengthAdjust="spacingAndGlyphs">B1</text>
<text class="t" transform="rotate(-90 353.02 529.35)" x="348.37" y="531.5" font-size="6.14" textLength="9.3" lengthAdjust="spacingAndGlyphs">IO37</text>
<text class="t" transform="rotate(-90 361.31 461.63)" x="358.94" y="463.78" font-size="6.14" textLength="4.74" lengthAdjust="spacingAndGlyphs">B1</text>
<text class="t" transform="rotate(-90 361.31 452.98)" x="357.03" y="455.13" font-size="6.14" textLength="8.57" lengthAdjust="spacingAndGlyphs">IO38</text>
<text class="t" transform="rotate(-90 361.31 536.65)" x="356.66" y="538.8" font-size="6.14" textLength="9.3" lengthAdjust="spacingAndGlyphs">GND</text>
<text class="n" transform="rotate(-90 249.15 490.6)" x="247.3" y="492.95" font-size="6.71" textLength="3.7" lengthAdjust="spacingAndGlyphs">30</text>
<text class="n" transform="rotate(-90 249.15 500.2)" x="247.3" y="502.55" font-size="6.71" textLength="3.7" lengthAdjust="spacingAndGlyphs">29</text>
<text class="n" transform="rotate(-90 257.44 490.6)" x="255.59" y="492.95" font-size="6.71" textLength="3.7" lengthAdjust="spacingAndGlyphs">28</text>
<text class="n" transform="rotate(-90 257.44 500.2)" x="255.59" y="502.55" font-size="6.71" textLength="3.7" lengthAdjust="spacingAndGlyphs">27</text>
<text class="n" transform="rotate(-90 265.73 490.6)" x="263.88" y="492.95" font-size="6.71" textLength="3.7" lengthAdjust="spacingAndGlyphs">26</text>
<text class="n" transform="rotate(-90 265.73 500.2)" x="263.88" y="502.55" font-size="6.71" textLength="3.7" lengthAdjust="spacingAndGlyphs">25</text>
<text class="n" transform="rotate(-90 274.02 490.6)" x="272.17" y="492.95" font-size="6.71" textLength="3.7" lengthAdjust="spacingAndGlyphs">24</text>
<text class="n" transform="rotate(-90 274.02 500.2)" x="272.17" y="502.55" font-size="6.71" textLength="3.7" lengthAdjust="spacingAndGlyphs">23</text>
<text class="n" transform="rotate(-90 282.31 490.6)" x="280.46" y="492.95" font-size="6.71" textLength="3.7" lengthAdjust="spacingAndGlyphs">22</text>
<text class="n" transform="rotate(-90 282.31 500.2)" x="280.46" y="502.55" font-size="6.71" textLength="3.7" lengthAdjust="spacingAndGlyphs">21</text>
<text class="n" transform="rotate(-90 290.6 490.6)" x="288.75" y="492.95" font-size="6.71" textLength="3.7" lengthAdjust="spacingAndGlyphs">20</text>
<text class="n" transform="rotate(-90 290.6 500.2)" x="288.75" y="502.55" font-size="6.71" textLength="3.7" lengthAdjust="spacingAndGlyphs">19</text>
<text class="n" transform="rotate(-90 298.89 490.6)" x="297.04" y="492.95" font-size="6.71" textLength="3.7" lengthAdjust="spacingAndGlyphs">18</text>
<text class="n" transform="rotate(-90 298.89 500.2)" x="297.04" y="502.55" font-size="6.71" textLength="3.7" lengthAdjust="spacingAndGlyphs">17</text>
<text class="n" transform="rotate(-90 307.18 490.6)" x="305.33" y="492.95" font-size="6.71" textLength="3.7" lengthAdjust="spacingAndGlyphs">16</text>
<text class="n" transform="rotate(-90 307.18 500.2)" x="305.33" y="502.55" font-size="6.71" textLength="3.7" lengthAdjust="spacingAndGlyphs">15</text>
<text class="n" transform="rotate(-90 315.47 490.6)" x="313.62" y="492.95" font-size="6.71" textLength="3.7" lengthAdjust="spacingAndGlyphs">14</text>
<text class="n" transform="rotate(-90 315.47 500.2)" x="313.62" y="502.55" font-size="6.71" textLength="3.7" lengthAdjust="spacingAndGlyphs">13</text>
<text class="n" transform="rotate(-90 323.76 490.6)" x="321.91" y="492.95" font-size="6.71" textLength="3.7" lengthAdjust="spacingAndGlyphs">12</text>
<text class="n" transform="rotate(-90 323.76 500.2)" x="321.91" y="502.55" font-size="6.71" textLength="3.7" lengthAdjust="spacingAndGlyphs">11</text>
<text class="n" transform="rotate(-90 332.05 490.6)" x="330.2" y="492.95" font-size="6.71" textLength="3.7" lengthAdjust="spacingAndGlyphs">10</text>
<text class="n" transform="rotate(-90 332.05 500.2)" x="331.2" y="502.55" font-size="6.71" textLength="1.7" lengthAdjust="spacingAndGlyphs">9</text>
<text class="n" transform="rotate(-90 340.34 490.6)" x="339.49" y="492.95" font-size="6.71" textLength="1.7" lengthAdjust="spacingAndGlyphs">8</text>
<text class="n" transform="rotate(-90 340.34 500.2)" x="339.49" y="502.55" font-size="6.71" textLength="1.7" lengthAdjust="spacingAndGlyphs">7</text>
<text class="n" transform="rotate(-90 348.63 490.6)" x="347.78" y="492.95" font-size="6.71" textLength="1.7" lengthAdjust="spacingAndGlyphs">6</text>
<text class="n" transform="rotate(-90 348.63 500.2)" x="347.78" y="502.55" font-size="6.71" textLength="1.7" lengthAdjust="spacingAndGlyphs">5</text>
<text class="n" transform="rotate(-90 356.92 490.6)" x="356.07" y="492.95" font-size="6.71" textLength="1.7" lengthAdjust="spacingAndGlyphs">4</text>
<text class="n" transform="rotate(-90 356.92 500.2)" x="356.07" y="502.55" font-size="6.71" textLength="1.7" lengthAdjust="spacingAndGlyphs">3</text>
<text class="n" transform="rotate(-90 365.21 490.6)" x="364.36" y="492.95" font-size="6.71" textLength="1.7" lengthAdjust="spacingAndGlyphs">2</text>
<text class="n" transform="rotate(-90 365.21 500.2)" x="364.36" y="502.55" font-size="6.71" textLength="1.7" lengthAdjust="spacingAndGlyphs">1</text>
<text class="n" transform="rotate(-90 236.35 503.15)" x="234.2" y="505.5" font-size="6.71" textLength="4.3" lengthAdjust="spacingAndGlyphs">P1</text>
<text class="t" transform="rotate(-90 378.9 493.75)" x="367.15" y="496.45" font-size="7.71" textLength="23.5" lengthAdjust="spacingAndGlyphs">Header 15X2</text>
<rect x="441.5" y="459.5" width="134" height="20" fill="none" stroke="#000" stroke-width="1"/>
<line x1="449.5" y1="423" x2="449.5" y2="459.3" stroke="#000" stroke-width="1"/>
<line x1="449.5" y1="479.5" x2="449.5" y2="515.3" stroke="#000" stroke-width="1"/>
<line x1="457.5" y1="423" x2="457.5" y2="459.3" stroke="#000" stroke-width="1"/>
<line x1="457.5" y1="479.5" x2="457.5" y2="515.3" stroke="#000" stroke-width="1"/>
<line x1="466.5" y1="423" x2="466.5" y2="459.3" stroke="#000" stroke-width="1"/>
<line x1="466.5" y1="479.5" x2="466.5" y2="515.3" stroke="#000" stroke-width="1"/>
<line x1="474.5" y1="423" x2="474.5" y2="459.3" stroke="#000" stroke-width="1"/>
<line x1="474.5" y1="479.5" x2="474.5" y2="515.3" stroke="#000" stroke-width="1"/>
<line x1="483.5" y1="423" x2="483.5" y2="459.3" stroke="#000" stroke-width="1"/>
<line x1="483.5" y1="479.5" x2="483.5" y2="515.3" stroke="#000" stroke-width="1"/>
<line x1="491.5" y1="423" x2="491.5" y2="459.3" stroke="#000" stroke-width="1"/>
<line x1="491.5" y1="479.5" x2="491.5" y2="515.3" stroke="#000" stroke-width="1"/>
<line x1="499.5" y1="423" x2="499.5" y2="459.3" stroke="#000" stroke-width="1"/>
<line x1="499.5" y1="479.5" x2="499.5" y2="515.3" stroke="#000" stroke-width="1"/>
<line x1="508.5" y1="423" x2="508.5" y2="459.3" stroke="#000" stroke-width="1"/>
<line x1="508.5" y1="479.5" x2="508.5" y2="515.3" stroke="#000" stroke-width="1"/>
<line x1="516.5" y1="423" x2="516.5" y2="459.3" stroke="#000" stroke-width="1"/>
<line x1="516.5" y1="479.5" x2="516.5" y2="515.3" stroke="#000" stroke-width="1"/>
<line x1="525.5" y1="423" x2="525.5" y2="459.3" stroke="#000" stroke-width="1"/>
<line x1="525.5" y1="479.5" x2="525.5" y2="515.3" stroke="#000" stroke-width="1"/>
<line x1="533.5" y1="423" x2="533.5" y2="459.3" stroke="#000" stroke-width="1"/>
<line x1="533.5" y1="479.5" x2="533.5" y2="515.3" stroke="#000" stroke-width="1"/>
<line x1="541.5" y1="423" x2="541.5" y2="459.3" stroke="#000" stroke-width="1"/>
<line x1="541.5" y1="479.5" x2="541.5" y2="515.3" stroke="#000" stroke-width="1"/>
<line x1="550.5" y1="423" x2="550.5" y2="459.3" stroke="#000" stroke-width="1"/>
<line x1="550.5" y1="479.5" x2="550.5" y2="515.3" stroke="#000" stroke-width="1"/>
<line x1="558.5" y1="423" x2="558.5" y2="459.3" stroke="#000" stroke-width="1"/>
<line x1="558.5" y1="479.5" x2="558.5" y2="515.3" stroke="#000" stroke-width="1"/>
<line x1="566.5" y1="423" x2="566.5" y2="459.3" stroke="#000" stroke-width="1"/>
<line x1="566.5" y1="479.5" x2="566.5" y2="515.3" stroke="#000" stroke-width="1"/>
<text class="t" transform="rotate(-90 445.15 435.82)" x="442.67" y="437.97" font-size="6.14" textLength="4.96" lengthAdjust="spacingAndGlyphs">B1</text>
<text class="t" transform="rotate(-90 445.15 426.78)" x="440.67" y="428.93" font-size="6.14" textLength="8.96" lengthAdjust="spacingAndGlyphs">IO10</text>
<text class="t" transform="rotate(-90 445.15 509.75)" x="440.1" y="511.9" font-size="6.14" textLength="10.1" lengthAdjust="spacingAndGlyphs">GND</text>
<text class="t" transform="rotate(-90 453.53 435.82)" x="451.05" y="437.97" font-size="6.14" textLength="4.96" lengthAdjust="spacingAndGlyphs">B1</text>
<text class="t" transform="rotate(-90 453.53 426.78)" x="449.05" y="428.93" font-size="6.14" textLength="8.96" lengthAdjust="spacingAndGlyphs">IO12</text>
<text class="t" transform="rotate(-90 453.53 512.2)" x="450.93" y="514.35" font-size="6.14" textLength="5.21" lengthAdjust="spacingAndGlyphs">B1</text>
<text class="t" transform="rotate(-90 453.53 502.7)" x="448.83" y="504.85" font-size="6.14" textLength="9.41" lengthAdjust="spacingAndGlyphs">IO13</text>
<text class="t" transform="rotate(-90 461.91 435.82)" x="459.43" y="437.97" font-size="6.14" textLength="4.96" lengthAdjust="spacingAndGlyphs">B1</text>
<text class="t" transform="rotate(-90 461.91 426.78)" x="457.43" y="428.93" font-size="6.14" textLength="8.96" lengthAdjust="spacingAndGlyphs">IO14</text>
<text class="t" transform="rotate(-90 461.91 512.2)" x="459.31" y="514.35" font-size="6.14" textLength="5.21" lengthAdjust="spacingAndGlyphs">B1</text>
<text class="t" transform="rotate(-90 461.91 502.7)" x="457.21" y="504.85" font-size="6.14" textLength="9.41" lengthAdjust="spacingAndGlyphs">IO15</text>
<text class="t" transform="rotate(-90 470.29 435.82)" x="467.81" y="437.97" font-size="6.14" textLength="4.96" lengthAdjust="spacingAndGlyphs">B1</text>
<text class="t" transform="rotate(-90 470.29 426.78)" x="465.81" y="428.93" font-size="6.14" textLength="8.96" lengthAdjust="spacingAndGlyphs">IO16</text>
<text class="t" transform="rotate(-90 470.29 512.2)" x="467.69" y="514.35" font-size="6.14" textLength="5.21" lengthAdjust="spacingAndGlyphs">B1</text>
<text class="t" transform="rotate(-90 470.29 502.7)" x="465.59" y="504.85" font-size="6.14" textLength="9.41" lengthAdjust="spacingAndGlyphs">IO17</text>
<text class="t" transform="rotate(-90 478.67 435.82)" x="476.19" y="437.97" font-size="6.14" textLength="4.96" lengthAdjust="spacingAndGlyphs">B1</text>
<text class="t" transform="rotate(-90 478.67 426.78)" x="474.19" y="428.93" font-size="6.14" textLength="8.96" lengthAdjust="spacingAndGlyphs">IO18</text>
<text class="t" transform="rotate(-90 478.67 512.2)" x="476.07" y="514.35" font-size="6.14" textLength="5.21" lengthAdjust="spacingAndGlyphs">B1</text>
<text class="t" transform="rotate(-90 478.67 502.7)" x="473.97" y="504.85" font-size="6.14" textLength="9.41" lengthAdjust="spacingAndGlyphs">IO19</text>
<text class="t" transform="rotate(-90 487.05 435.82)" x="484.57" y="437.97" font-size="6.14" textLength="4.96" lengthAdjust="spacingAndGlyphs">B1</text>
<text class="t" transform="rotate(-90 487.05 426.78)" x="482.57" y="428.93" font-size="6.14" textLength="8.96" lengthAdjust="spacingAndGlyphs">IO20</text>
<text class="t" transform="rotate(-90 487.05 512.2)" x="484.45" y="514.35" font-size="6.14" textLength="5.21" lengthAdjust="spacingAndGlyphs">B1</text>
<text class="t" transform="rotate(-90 487.05 502.7)" x="482.35" y="504.85" font-size="6.14" textLength="9.41" lengthAdjust="spacingAndGlyphs">IO21</text>
<text class="t" transform="rotate(-90 495.43 435.82)" x="492.95" y="437.97" font-size="6.14" textLength="4.96" lengthAdjust="spacingAndGlyphs">B1</text>
<text class="t" transform="rotate(-90 495.43 426.78)" x="490.95" y="428.93" font-size="6.14" textLength="8.96" lengthAdjust="spacingAndGlyphs">IO22</text>
<text class="t" transform="rotate(-90 495.43 512.2)" x="492.83" y="514.35" font-size="6.14" textLength="5.21" lengthAdjust="spacingAndGlyphs">B1</text>
<text class="t" transform="rotate(-90 495.43 502.7)" x="490.73" y="504.85" font-size="6.14" textLength="9.41" lengthAdjust="spacingAndGlyphs">IO23</text>
<text class="t" transform="rotate(-90 503.81 435.82)" x="501.33" y="437.97" font-size="6.14" textLength="4.96" lengthAdjust="spacingAndGlyphs">B1</text>
<text class="t" transform="rotate(-90 503.81 426.78)" x="499.33" y="428.93" font-size="6.14" textLength="8.96" lengthAdjust="spacingAndGlyphs">IO24</text>
<text class="t" transform="rotate(-90 503.81 512.2)" x="501.21" y="514.35" font-size="6.14" textLength="5.21" lengthAdjust="spacingAndGlyphs">B1</text>
<text class="t" transform="rotate(-90 503.81 502.7)" x="499.11" y="504.85" font-size="6.14" textLength="9.41" lengthAdjust="spacingAndGlyphs">IO25</text>
<text class="t" transform="rotate(-90 512.19 435.82)" x="509.71" y="437.97" font-size="6.14" textLength="4.96" lengthAdjust="spacingAndGlyphs">B1</text>
<text class="t" transform="rotate(-90 512.19 426.78)" x="507.71" y="428.93" font-size="6.14" textLength="8.96" lengthAdjust="spacingAndGlyphs">IO26</text>
<text class="t" transform="rotate(-90 512.19 512.2)" x="509.59" y="514.35" font-size="6.14" textLength="5.21" lengthAdjust="spacingAndGlyphs">B1</text>
<text class="t" transform="rotate(-90 512.19 502.7)" x="507.49" y="504.85" font-size="6.14" textLength="9.41" lengthAdjust="spacingAndGlyphs">IO27</text>
<text class="t" transform="rotate(-90 520.57 435.82)" x="518.09" y="437.97" font-size="6.14" textLength="4.96" lengthAdjust="spacingAndGlyphs">B1</text>
<text class="t" transform="rotate(-90 520.57 426.78)" x="516.09" y="428.93" font-size="6.14" textLength="8.96" lengthAdjust="spacingAndGlyphs">IO28</text>
<text class="t" transform="rotate(-90 520.57 512.2)" x="517.97" y="514.35" font-size="6.14" textLength="5.21" lengthAdjust="spacingAndGlyphs">B1</text>
<text class="t" transform="rotate(-90 520.57 502.7)" x="515.87" y="504.85" font-size="6.14" textLength="9.41" lengthAdjust="spacingAndGlyphs">IO29</text>
<text class="t" transform="rotate(-90 528.95 435.82)" x="526.47" y="437.97" font-size="6.14" textLength="4.96" lengthAdjust="spacingAndGlyphs">B1</text>
<text class="t" transform="rotate(-90 528.95 426.78)" x="524.47" y="428.93" font-size="6.14" textLength="8.96" lengthAdjust="spacingAndGlyphs">IO30</text>
<text class="t" transform="rotate(-90 528.95 512.2)" x="526.35" y="514.35" font-size="6.14" textLength="5.21" lengthAdjust="spacingAndGlyphs">B1</text>
<text class="t" transform="rotate(-90 528.95 502.7)" x="524.25" y="504.85" font-size="6.14" textLength="9.41" lengthAdjust="spacingAndGlyphs">IO31</text>
<text class="t" transform="rotate(-90 537.33 435.82)" x="534.85" y="437.97" font-size="6.14" textLength="4.96" lengthAdjust="spacingAndGlyphs">B1</text>
<text class="t" transform="rotate(-90 537.33 426.78)" x="532.85" y="428.93" font-size="6.14" textLength="8.96" lengthAdjust="spacingAndGlyphs">IO32</text>
<text class="t" transform="rotate(-90 537.33 512.2)" x="534.73" y="514.35" font-size="6.14" textLength="5.21" lengthAdjust="spacingAndGlyphs">B1</text>
<text class="t" transform="rotate(-90 537.33 502.7)" x="532.63" y="504.85" font-size="6.14" textLength="9.41" lengthAdjust="spacingAndGlyphs">IO33</text>
<text class="t" transform="rotate(-90 545.71 435.82)" x="543.23" y="437.97" font-size="6.14" textLength="4.96" lengthAdjust="spacingAndGlyphs">B1</text>
<text class="t" transform="rotate(-90 545.71 426.78)" x="541.23" y="428.93" font-size="6.14" textLength="8.96" lengthAdjust="spacingAndGlyphs">IO34</text>
<text class="t" transform="rotate(-90 545.71 509.75)" x="540.66" y="511.9" font-size="6.14" textLength="10.1" lengthAdjust="spacingAndGlyphs">GND</text>
<text class="t" transform="rotate(-90 554.09 435.82)" x="551.61" y="437.97" font-size="6.14" textLength="4.96" lengthAdjust="spacingAndGlyphs">B1</text>
<text class="t" transform="rotate(-90 554.09 426.78)" x="549.61" y="428.93" font-size="6.14" textLength="8.96" lengthAdjust="spacingAndGlyphs">IO36</text>
<text class="t" transform="rotate(-90 554.09 512.2)" x="551.49" y="514.35" font-size="6.14" textLength="5.21" lengthAdjust="spacingAndGlyphs">B1</text>
<text class="t" transform="rotate(-90 554.09 502.7)" x="549.39" y="504.85" font-size="6.14" textLength="9.41" lengthAdjust="spacingAndGlyphs">IO37</text>
<text class="t" transform="rotate(-90 562.47 435.82)" x="559.99" y="437.97" font-size="6.14" textLength="4.96" lengthAdjust="spacingAndGlyphs">B1</text>
<text class="t" transform="rotate(-90 562.47 426.78)" x="557.99" y="428.93" font-size="6.14" textLength="8.96" lengthAdjust="spacingAndGlyphs">IO38</text>
<text class="t" transform="rotate(-90 562.47 512.2)" x="559.87" y="514.35" font-size="6.14" textLength="5.21" lengthAdjust="spacingAndGlyphs">B1</text>
<text class="t" transform="rotate(-90 562.47 502.7)" x="557.77" y="504.85" font-size="6.14" textLength="9.41" lengthAdjust="spacingAndGlyphs">IO39</text>
<text class="n" transform="rotate(-90 449.05 464.9)" x="447.2" y="467.25" font-size="6.71" textLength="3.7" lengthAdjust="spacingAndGlyphs">30</text>
<text class="n" transform="rotate(-90 449.05 474.4)" x="447.2" y="476.75" font-size="6.71" textLength="3.7" lengthAdjust="spacingAndGlyphs">29</text>
<text class="n" transform="rotate(-90 457.43 464.9)" x="455.58" y="467.25" font-size="6.71" textLength="3.7" lengthAdjust="spacingAndGlyphs">28</text>
<text class="n" transform="rotate(-90 457.43 474.4)" x="455.58" y="476.75" font-size="6.71" textLength="3.7" lengthAdjust="spacingAndGlyphs">27</text>
<text class="n" transform="rotate(-90 465.81 464.9)" x="463.96" y="467.25" font-size="6.71" textLength="3.7" lengthAdjust="spacingAndGlyphs">26</text>
<text class="n" transform="rotate(-90 465.81 474.4)" x="463.96" y="476.75" font-size="6.71" textLength="3.7" lengthAdjust="spacingAndGlyphs">25</text>
<text class="n" transform="rotate(-90 474.19 464.9)" x="472.34" y="467.25" font-size="6.71" textLength="3.7" lengthAdjust="spacingAndGlyphs">24</text>
<text class="n" transform="rotate(-90 474.19 474.4)" x="472.34" y="476.75" font-size="6.71" textLength="3.7" lengthAdjust="spacingAndGlyphs">23</text>
<text class="n" transform="rotate(-90 482.57 464.9)" x="480.72" y="467.25" font-size="6.71" textLength="3.7" lengthAdjust="spacingAndGlyphs">22</text>
<text class="n" transform="rotate(-90 482.57 474.4)" x="480.72" y="476.75" font-size="6.71" textLength="3.7" lengthAdjust="spacingAndGlyphs">21</text>
<text class="n" transform="rotate(-90 490.95 464.9)" x="489.1" y="467.25" font-size="6.71" textLength="3.7" lengthAdjust="spacingAndGlyphs">20</text>
<text class="n" transform="rotate(-90 490.95 474.4)" x="489.1" y="476.75" font-size="6.71" textLength="3.7" lengthAdjust="spacingAndGlyphs">19</text>
<text class="n" transform="rotate(-90 499.33 464.9)" x="497.48" y="467.25" font-size="6.71" textLength="3.7" lengthAdjust="spacingAndGlyphs">18</text>
<text class="n" transform="rotate(-90 499.33 474.4)" x="497.48" y="476.75" font-size="6.71" textLength="3.7" lengthAdjust="spacingAndGlyphs">17</text>
<text class="n" transform="rotate(-90 507.71 464.9)" x="505.86" y="467.25" font-size="6.71" textLength="3.7" lengthAdjust="spacingAndGlyphs">16</text>
<text class="n" transform="rotate(-90 507.71 474.4)" x="505.86" y="476.75" font-size="6.71" textLength="3.7" lengthAdjust="spacingAndGlyphs">15</text>
<text class="n" transform="rotate(-90 516.09 464.9)" x="514.24" y="467.25" font-size="6.71" textLength="3.7" lengthAdjust="spacingAndGlyphs">14</text>
<text class="n" transform="rotate(-90 516.09 474.4)" x="514.24" y="476.75" font-size="6.71" textLength="3.7" lengthAdjust="spacingAndGlyphs">13</text>
<text class="n" transform="rotate(-90 524.47 464.9)" x="522.62" y="467.25" font-size="6.71" textLength="3.7" lengthAdjust="spacingAndGlyphs">12</text>
<text class="n" transform="rotate(-90 524.47 474.4)" x="522.62" y="476.75" font-size="6.71" textLength="3.7" lengthAdjust="spacingAndGlyphs">11</text>
<text class="n" transform="rotate(-90 532.85 464.9)" x="531" y="467.25" font-size="6.71" textLength="3.7" lengthAdjust="spacingAndGlyphs">10</text>
<text class="n" transform="rotate(-90 532.85 474.4)" x="532" y="476.75" font-size="6.71" textLength="1.7" lengthAdjust="spacingAndGlyphs">9</text>
<text class="n" transform="rotate(-90 541.23 464.9)" x="540.38" y="467.25" font-size="6.71" textLength="1.7" lengthAdjust="spacingAndGlyphs">8</text>
<text class="n" transform="rotate(-90 541.23 474.4)" x="540.38" y="476.75" font-size="6.71" textLength="1.7" lengthAdjust="spacingAndGlyphs">7</text>
<text class="n" transform="rotate(-90 549.61 464.9)" x="548.76" y="467.25" font-size="6.71" textLength="1.7" lengthAdjust="spacingAndGlyphs">6</text>
<text class="n" transform="rotate(-90 549.61 474.4)" x="548.76" y="476.75" font-size="6.71" textLength="1.7" lengthAdjust="spacingAndGlyphs">5</text>
<text class="n" transform="rotate(-90 557.99 464.9)" x="557.14" y="467.25" font-size="6.71" textLength="1.7" lengthAdjust="spacingAndGlyphs">4</text>
<text class="n" transform="rotate(-90 557.99 474.4)" x="557.14" y="476.75" font-size="6.71" textLength="1.7" lengthAdjust="spacingAndGlyphs">3</text>
<text class="n" transform="rotate(-90 566.37 464.9)" x="565.52" y="467.25" font-size="6.71" textLength="1.7" lengthAdjust="spacingAndGlyphs">2</text>
<text class="n" transform="rotate(-90 566.37 474.4)" x="565.52" y="476.75" font-size="6.71" textLength="1.7" lengthAdjust="spacingAndGlyphs">1</text>
<text class="n" transform="rotate(-90 437.25 477.65)" x="435.4" y="479.9" font-size="6.43" textLength="3.7" lengthAdjust="spacingAndGlyphs">P1</text>
<text class="t" transform="rotate(-90 579.25 467.5)" x="567.35" y="470.05" font-size="7.29" textLength="23.8" lengthAdjust="spacingAndGlyphs">Header 15X2</text>
<rect x="116.5" y="167.5" width="367" height="225" fill="none" stroke="#000" stroke-width="1"/>
<rect x="116.1" y="207.9" width="4.9" height="147.6" fill="#000"/>
<rect x="478.5" y="204.5" width="5" height="147" fill="#fff" stroke="#000" stroke-width="1"/>
<rect x="216" y="166.6" width="175.7" height="3.2" fill="#000"/>
<rect x="199.3" y="389.5" width="209.3" height="3" fill="#000"/>
<text class="t" transform="rotate(-90 111.5 151.85)" x="106.85" y="154.15" font-size="6.57" textLength="9.3" lengthAdjust="spacingAndGlyphs">U1</text>
<text class="t" transform="rotate(-90 121.1 142.4)" x="107.7" y="144.9" font-size="7.14" textLength="26.8" lengthAdjust="spacingAndGlyphs">EP1C6Q240</text>
<text class="b" x="275.2" y="228.7" font-size="7.42" textLength="36.8" lengthAdjust="spacingAndGlyphs">BANK 1</text>
<text class="b" transform="rotate(180 297 329.9)" x="278.5" y="332.5" font-size="7.88" textLength="37" lengthAdjust="spacingAndGlyphs">BANK 3</text>
<text class="b" transform="rotate(90 222.6 276.45)" x="211.45" y="280.55" font-size="12.42" textLength="22.3" lengthAdjust="spacingAndGlyphs">BANK 2</text>
<text class="b" transform="rotate(-90 376.9 273.85)" x="365.45" y="277.65" font-size="11.52" textLength="22.9" lengthAdjust="spacingAndGlyphs">BANK 4</text>
<line x1="224.5" y1="136.5" x2="224.5" y2="166.8" stroke="#000" stroke-width="1"/>
<text class="t" transform="rotate(-90 220.4 149.74)" x="217.94" y="151.94" font-size="6.29" textLength="4.93" lengthAdjust="spacingAndGlyphs">B1</text>
<text class="t" transform="rotate(-90 220.4 140.75)" x="215.95" y="142.95" font-size="6.29" textLength="8.9" lengthAdjust="spacingAndGlyphs">IO40</text>
<text class="n" transform="rotate(-90 220.5 161.4)" x="218.4" y="163.4" font-size="5.71" textLength="4.2" lengthAdjust="spacingAndGlyphs">200</text>
<line x1="232.5" y1="136.5" x2="232.5" y2="166.8" stroke="#000" stroke-width="1"/>
<text class="t" transform="rotate(-90 228.77 149.74)" x="226.31" y="151.94" font-size="6.29" textLength="4.93" lengthAdjust="spacingAndGlyphs">B1</text>
<text class="t" transform="rotate(-90 228.77 140.75)" x="224.32" y="142.95" font-size="6.29" textLength="8.9" lengthAdjust="spacingAndGlyphs">IO41</text>
<text class="n" transform="rotate(-90 228.87 161.4)" x="226.77" y="163.4" font-size="5.71" textLength="4.2" lengthAdjust="spacingAndGlyphs">201</text>
<line x1="241.5" y1="136.5" x2="241.5" y2="166.8" stroke="#000" stroke-width="1"/>
<text class="t" transform="rotate(-90 237.14 149.74)" x="234.68" y="151.94" font-size="6.29" textLength="4.93" lengthAdjust="spacingAndGlyphs">B1</text>
<text class="t" transform="rotate(-90 237.14 140.75)" x="232.69" y="142.95" font-size="6.29" textLength="8.9" lengthAdjust="spacingAndGlyphs">IO42</text>
<text class="n" transform="rotate(-90 237.24 161.4)" x="235.14" y="163.4" font-size="5.71" textLength="4.2" lengthAdjust="spacingAndGlyphs">202</text>
<line x1="249.5" y1="136.5" x2="249.5" y2="166.8" stroke="#000" stroke-width="1"/>
<text class="t" transform="rotate(-90 245.51 149.74)" x="243.05" y="151.94" font-size="6.29" textLength="4.93" lengthAdjust="spacingAndGlyphs">B1</text>
<text class="t" transform="rotate(-90 245.51 140.75)" x="241.06" y="142.95" font-size="6.29" textLength="8.9" lengthAdjust="spacingAndGlyphs">IO43</text>
<text class="n" transform="rotate(-90 245.61 161.4)" x="243.51" y="163.4" font-size="5.71" textLength="4.2" lengthAdjust="spacingAndGlyphs">203</text>
<line x1="257.5" y1="136.5" x2="257.5" y2="166.8" stroke="#000" stroke-width="1"/>
<text class="t" transform="rotate(-90 253.88 149.74)" x="251.42" y="151.94" font-size="6.29" textLength="4.93" lengthAdjust="spacingAndGlyphs">B1</text>
<text class="t" transform="rotate(-90 253.88 140.75)" x="249.43" y="142.95" font-size="6.29" textLength="8.9" lengthAdjust="spacingAndGlyphs">IO44</text>
<text class="n" transform="rotate(-90 253.98 161.4)" x="251.88" y="163.4" font-size="5.71" textLength="4.2" lengthAdjust="spacingAndGlyphs">204</text>
<line x1="266.5" y1="136.5" x2="266.5" y2="166.8" stroke="#000" stroke-width="1"/>
<text class="t" transform="rotate(-90 262.25 149.74)" x="259.79" y="151.94" font-size="6.29" textLength="4.93" lengthAdjust="spacingAndGlyphs">B1</text>
<text class="t" transform="rotate(-90 262.25 140.75)" x="257.8" y="142.95" font-size="6.29" textLength="8.9" lengthAdjust="spacingAndGlyphs">IO45</text>
<text class="n" transform="rotate(-90 262.35 161.4)" x="260.25" y="163.4" font-size="5.71" textLength="4.2" lengthAdjust="spacingAndGlyphs">205</text>
<line x1="274.5" y1="136.5" x2="274.5" y2="166.8" stroke="#000" stroke-width="1"/>
<text class="t" transform="rotate(-90 270.62 149.74)" x="268.16" y="151.94" font-size="6.29" textLength="4.93" lengthAdjust="spacingAndGlyphs">B1</text>
<text class="t" transform="rotate(-90 270.62 140.75)" x="266.17" y="142.95" font-size="6.29" textLength="8.9" lengthAdjust="spacingAndGlyphs">IO46</text>
<text class="n" transform="rotate(-90 270.72 161.4)" x="268.62" y="163.4" font-size="5.71" textLength="4.2" lengthAdjust="spacingAndGlyphs">206</text>
<line x1="282.5" y1="136.5" x2="282.5" y2="166.8" stroke="#000" stroke-width="1"/>
<text class="t" transform="rotate(-90 278.99 149.74)" x="276.53" y="151.94" font-size="6.29" textLength="4.93" lengthAdjust="spacingAndGlyphs">B1</text>
<text class="t" transform="rotate(-90 278.99 140.75)" x="274.54" y="142.95" font-size="6.29" textLength="8.9" lengthAdjust="spacingAndGlyphs">IO47</text>
<text class="n" transform="rotate(-90 279.09 161.4)" x="276.99" y="163.4" font-size="5.71" textLength="4.2" lengthAdjust="spacingAndGlyphs">207</text>
<line x1="291.5" y1="136.5" x2="291.5" y2="166.8" stroke="#000" stroke-width="1"/>
<text class="t" transform="rotate(-90 287.36 149.74)" x="284.9" y="151.94" font-size="6.29" textLength="4.93" lengthAdjust="spacingAndGlyphs">B1</text>
<text class="t" transform="rotate(-90 287.36 140.75)" x="282.91" y="142.95" font-size="6.29" textLength="8.9" lengthAdjust="spacingAndGlyphs">IO48</text>
<text class="n" transform="rotate(-90 287.46 161.4)" x="285.36" y="163.4" font-size="5.71" textLength="4.2" lengthAdjust="spacingAndGlyphs">208</text>
<line x1="299.5" y1="136.5" x2="299.5" y2="166.8" stroke="#000" stroke-width="1"/>
<text class="t" transform="rotate(-90 295.73 141.45)" x="281.68" y="143.65" font-size="6.29" textLength="28.1" lengthAdjust="spacingAndGlyphs">VCCA PLL1</text>
<text class="n" transform="rotate(-90 295.83 161.4)" x="293.73" y="163.4" font-size="5.71" textLength="4.2" lengthAdjust="spacingAndGlyphs">209</text>
<line x1="308.5" y1="136.5" x2="308.5" y2="166.8" stroke="#000" stroke-width="1"/>
<text class="t" transform="rotate(-90 304.1 141.45)" x="290.05" y="143.65" font-size="6.29" textLength="28.1" lengthAdjust="spacingAndGlyphs">GNDA PLL1</text>
<text class="n" transform="rotate(-90 304.2 161.4)" x="302.1" y="163.4" font-size="5.71" textLength="4.2" lengthAdjust="spacingAndGlyphs">210</text>
<line x1="316.5" y1="136.5" x2="316.5" y2="166.8" stroke="#000" stroke-width="1"/>
<text class="t" transform="rotate(-90 312.47 149.74)" x="310.01" y="151.94" font-size="6.29" textLength="4.93" lengthAdjust="spacingAndGlyphs">B1</text>
<text class="t" transform="rotate(-90 312.47 140.75)" x="308.02" y="142.95" font-size="6.29" textLength="8.9" lengthAdjust="spacingAndGlyphs">IO51</text>
<text class="n" transform="rotate(-90 312.57 161.4)" x="310.47" y="163.4" font-size="5.71" textLength="4.2" lengthAdjust="spacingAndGlyphs">211</text>
<line x1="324.5" y1="136.5" x2="324.5" y2="166.8" stroke="#000" stroke-width="1"/>
<text class="t" transform="rotate(-90 320.84 149.74)" x="318.38" y="151.94" font-size="6.29" textLength="4.93" lengthAdjust="spacingAndGlyphs">B1</text>
<text class="t" transform="rotate(-90 320.84 140.75)" x="316.39" y="142.95" font-size="6.29" textLength="8.9" lengthAdjust="spacingAndGlyphs">IO52</text>
<text class="n" transform="rotate(-90 320.94 161.4)" x="318.84" y="163.4" font-size="5.71" textLength="4.2" lengthAdjust="spacingAndGlyphs">212</text>
<line x1="333.5" y1="136.5" x2="333.5" y2="166.8" stroke="#000" stroke-width="1"/>
<text class="t" transform="rotate(-90 329.21 149.74)" x="326.75" y="151.94" font-size="6.29" textLength="4.93" lengthAdjust="spacingAndGlyphs">B1</text>
<text class="t" transform="rotate(-90 329.21 140.75)" x="324.76" y="142.95" font-size="6.29" textLength="8.9" lengthAdjust="spacingAndGlyphs">IO53</text>
<text class="n" transform="rotate(-90 329.31 161.4)" x="327.21" y="163.4" font-size="5.71" textLength="4.2" lengthAdjust="spacingAndGlyphs">213</text>
<line x1="341.5" y1="136.5" x2="341.5" y2="166.8" stroke="#000" stroke-width="1"/>
<text class="t" transform="rotate(-90 337.58 149.74)" x="335.12" y="151.94" font-size="6.29" textLength="4.93" lengthAdjust="spacingAndGlyphs">B1</text>
<text class="t" transform="rotate(-90 337.58 140.75)" x="333.13" y="142.95" font-size="6.29" textLength="8.9" lengthAdjust="spacingAndGlyphs">IO54</text>
<text class="n" transform="rotate(-90 337.68 161.4)" x="335.58" y="163.4" font-size="5.71" textLength="4.2" lengthAdjust="spacingAndGlyphs">214</text>
<line x1="349.5" y1="136.5" x2="349.5" y2="166.8" stroke="#000" stroke-width="1"/>
<text class="t" transform="rotate(-90 345.95 149.74)" x="343.49" y="151.94" font-size="6.29" textLength="4.93" lengthAdjust="spacingAndGlyphs">B1</text>
<text class="t" transform="rotate(-90 345.95 140.75)" x="341.5" y="142.95" font-size="6.29" textLength="8.9" lengthAdjust="spacingAndGlyphs">IO55</text>
<text class="n" transform="rotate(-90 346.05 161.4)" x="343.95" y="163.4" font-size="5.71" textLength="4.2" lengthAdjust="spacingAndGlyphs">215</text>
<line x1="358.5" y1="136.5" x2="358.5" y2="166.8" stroke="#000" stroke-width="1"/>
<text class="t" transform="rotate(-90 354.32 149.74)" x="351.86" y="151.94" font-size="6.29" textLength="4.93" lengthAdjust="spacingAndGlyphs">B1</text>
<text class="t" transform="rotate(-90 354.32 140.75)" x="349.87" y="142.95" font-size="6.29" textLength="8.9" lengthAdjust="spacingAndGlyphs">IO56</text>
<text class="n" transform="rotate(-90 354.42 161.4)" x="352.32" y="163.4" font-size="5.71" textLength="4.2" lengthAdjust="spacingAndGlyphs">216</text>
<line x1="366.5" y1="136.5" x2="366.5" y2="166.8" stroke="#000" stroke-width="1"/>
<text class="t" transform="rotate(-90 362.69 149.74)" x="360.23" y="151.94" font-size="6.29" textLength="4.93" lengthAdjust="spacingAndGlyphs">B1</text>
<text class="t" transform="rotate(-90 362.69 140.75)" x="358.24" y="142.95" font-size="6.29" textLength="8.9" lengthAdjust="spacingAndGlyphs">IO57</text>
<text class="n" transform="rotate(-90 362.79 161.4)" x="360.69" y="163.4" font-size="5.71" textLength="4.2" lengthAdjust="spacingAndGlyphs">217</text>
<line x1="375.5" y1="136.5" x2="375.5" y2="166.8" stroke="#000" stroke-width="1"/>
<text class="t" transform="rotate(-90 371.06 149.74)" x="368.6" y="151.94" font-size="6.29" textLength="4.93" lengthAdjust="spacingAndGlyphs">B1</text>
<text class="t" transform="rotate(-90 371.06 140.75)" x="366.61" y="142.95" font-size="6.29" textLength="8.9" lengthAdjust="spacingAndGlyphs">IO58</text>
<text class="n" transform="rotate(-90 371.16 161.4)" x="369.06" y="163.4" font-size="5.71" textLength="4.2" lengthAdjust="spacingAndGlyphs">218</text>
<line x1="383.5" y1="136.5" x2="383.5" y2="166.8" stroke="#000" stroke-width="1"/>
<text class="t" transform="rotate(-90 379.43 149.74)" x="376.97" y="151.94" font-size="6.29" textLength="4.93" lengthAdjust="spacingAndGlyphs">B1</text>
<text class="t" transform="rotate(-90 379.43 140.75)" x="374.98" y="142.95" font-size="6.29" textLength="8.9" lengthAdjust="spacingAndGlyphs">IO59</text>
<text class="n" transform="rotate(-90 379.53 161.4)" x="377.43" y="163.4" font-size="5.71" textLength="4.2" lengthAdjust="spacingAndGlyphs">219</text>
<text class="m" transform="rotate(-90 224.8 204.88)" x="190.93" y="207.18" font-size="6.57" textLength="67.75" lengthAdjust="spacingAndGlyphs">IO, LVDS4P, INIT_DONE</text>
<text class="m" transform="rotate(-90 233.13 191.5)" x="212.63" y="193.8" font-size="6.57" textLength="41" lengthAdjust="spacingAndGlyphs">IO, LVDS4N, CLKUSR</text>
<text class="m" transform="rotate(-90 241.46 202.6)" x="209.86" y="204.9" font-size="6.57" textLength="63.2" lengthAdjust="spacingAndGlyphs">IO, LVDS5P, DPCLK1, DQS0T</text>
<text class="m" transform="rotate(-90 249.79 183)" x="237.79" y="185.3" font-size="6.57" textLength="24" lengthAdjust="spacingAndGlyphs">IO, LVDS5N</text>
<text class="m" transform="rotate(-90 258.12 184.1)" x="245.02" y="186.4" font-size="6.57" textLength="26.2" lengthAdjust="spacingAndGlyphs">IO, VREF2B1</text>
<text class="m" transform="rotate(-90 266.45 191.25)" x="246.2" y="193.55" font-size="6.57" textLength="40.5" lengthAdjust="spacingAndGlyphs">IO, LVDS6P (DQ0T0)</text>
<text class="m" transform="rotate(-90 274.78 191.25)" x="254.53" y="193.55" font-size="6.57" textLength="40.5" lengthAdjust="spacingAndGlyphs">IO, LVDS6N (DQ0T1)</text>
<text class="m" transform="rotate(-90 283.11 192.35)" x="261.76" y="194.65" font-size="6.57" textLength="42.7" lengthAdjust="spacingAndGlyphs">IO, LVDS7P (DQ0T2)</text>
<text class="m" transform="rotate(-90 291.44 184.1)" x="278.34" y="186.4" font-size="6.57" textLength="26.2" lengthAdjust="spacingAndGlyphs">IO, VREF1B1</text>
<text class="m" transform="rotate(-90 299.77 181.25)" x="289.52" y="183.55" font-size="6.57" textLength="20.5" lengthAdjust="spacingAndGlyphs">IO, DQ0T3</text>
<text class="m" transform="rotate(-90 308.1 181.35)" x="297.75" y="183.65" font-size="6.57" textLength="20.7" lengthAdjust="spacingAndGlyphs">IO, DQ0T4</text>
<text class="m" transform="rotate(-90 316.43 186.35)" x="301.08" y="188.65" font-size="6.57" textLength="30.7" lengthAdjust="spacingAndGlyphs">IO, PLL1_OUTP</text>
<text class="m" transform="rotate(-90 324.76 186.35)" x="309.41" y="188.65" font-size="6.57" textLength="30.7" lengthAdjust="spacingAndGlyphs">IO, PLL1_OUTN</text>
<text class="m" transform="rotate(-90 333.09 192.15)" x="311.94" y="194.45" font-size="6.57" textLength="42.3" lengthAdjust="spacingAndGlyphs">IO, DPCLK0, DQS1T</text>
<text class="m" transform="rotate(-90 341.42 184.25)" x="328.17" y="186.55" font-size="6.57" textLength="26.5" lengthAdjust="spacingAndGlyphs">IO, VREF0B1</text>
<text class="m" transform="rotate(-90 349.75 182.15)" x="338.6" y="184.45" font-size="6.57" textLength="22.3" lengthAdjust="spacingAndGlyphs">IO, DQ0T5</text>
<text class="m" transform="rotate(-90 358.08 190.9)" x="338.18" y="193.2" font-size="6.57" textLength="39.8" lengthAdjust="spacingAndGlyphs">IO, LVDS8P (DQ0T6)</text>
<text class="m" transform="rotate(-90 366.41 190.9)" x="346.51" y="193.2" font-size="6.57" textLength="39.8" lengthAdjust="spacingAndGlyphs">IO, LVDS8N (DQ0T7)</text>
<text class="m" transform="rotate(-90 374.74 190.9)" x="354.84" y="193.2" font-size="6.57" textLength="39.8" lengthAdjust="spacingAndGlyphs">IO, LVDS9P (DQ1T0)</text>
<text class="m" transform="rotate(-90 383.07 182.6)" x="371.47" y="184.9" font-size="6.57" textLength="23.2" lengthAdjust="spacingAndGlyphs">IO, LVDS9N</text>
<line x1="208.5" y1="392.6" x2="208.5" y2="423.5" stroke="#000" stroke-width="1"/>
<text class="t" transform="rotate(-90 203.75 420.41)" x="201.16" y="422.66" font-size="6.43" textLength="5.18" lengthAdjust="spacingAndGlyphs">B3</text>
<text class="t" transform="rotate(-90 203.75 410.98)" x="199.07" y="413.23" font-size="6.43" textLength="9.35" lengthAdjust="spacingAndGlyphs">IO10</text>
<text class="n" transform="rotate(-90 203.7 398.15)" x="201.85" y="400.15" font-size="5.71" textLength="3.7" lengthAdjust="spacingAndGlyphs">60</text>
<line x1="216.5" y1="392.6" x2="216.5" y2="423.5" stroke="#000" stroke-width="1"/>
<text class="t" transform="rotate(-90 212.11 420.41)" x="209.52" y="422.66" font-size="6.43" textLength="5.18" lengthAdjust="spacingAndGlyphs">B3</text>
<text class="t" transform="rotate(-90 212.11 410.98)" x="207.43" y="413.23" font-size="6.43" textLength="9.35" lengthAdjust="spacingAndGlyphs">IO11</text>
<text class="n" transform="rotate(-90 212.06 398.15)" x="210.21" y="400.15" font-size="5.71" textLength="3.7" lengthAdjust="spacingAndGlyphs">61</text>
<line x1="224.5" y1="392.6" x2="224.5" y2="423.5" stroke="#000" stroke-width="1"/>
<text class="t" transform="rotate(-90 220.47 420.41)" x="217.88" y="422.66" font-size="6.43" textLength="5.18" lengthAdjust="spacingAndGlyphs">B3</text>
<text class="t" transform="rotate(-90 220.47 410.98)" x="215.79" y="413.23" font-size="6.43" textLength="9.35" lengthAdjust="spacingAndGlyphs">IO12</text>
<text class="n" transform="rotate(-90 220.42 398.15)" x="218.57" y="400.15" font-size="5.71" textLength="3.7" lengthAdjust="spacingAndGlyphs">62</text>
<line x1="233.5" y1="392.6" x2="233.5" y2="423.5" stroke="#000" stroke-width="1"/>
<text class="t" transform="rotate(-90 228.83 420.41)" x="226.24" y="422.66" font-size="6.43" textLength="5.18" lengthAdjust="spacingAndGlyphs">B3</text>
<text class="t" transform="rotate(-90 228.83 410.98)" x="224.15" y="413.23" font-size="6.43" textLength="9.35" lengthAdjust="spacingAndGlyphs">IO13</text>
<text class="n" transform="rotate(-90 228.78 398.15)" x="226.93" y="400.15" font-size="5.71" textLength="3.7" lengthAdjust="spacingAndGlyphs">63</text>
<line x1="241.5" y1="392.6" x2="241.5" y2="423.5" stroke="#000" stroke-width="1"/>
<text class="t" transform="rotate(-90 237.19 420.41)" x="234.6" y="422.66" font-size="6.43" textLength="5.18" lengthAdjust="spacingAndGlyphs">B3</text>
<text class="t" transform="rotate(-90 237.19 410.98)" x="232.51" y="413.23" font-size="6.43" textLength="9.35" lengthAdjust="spacingAndGlyphs">IO14</text>
<text class="n" transform="rotate(-90 237.14 398.15)" x="235.29" y="400.15" font-size="5.71" textLength="3.7" lengthAdjust="spacingAndGlyphs">64</text>
<line x1="249.5" y1="392.6" x2="249.5" y2="423.5" stroke="#000" stroke-width="1"/>
<text class="t" transform="rotate(-90 245.55 420.41)" x="242.96" y="422.66" font-size="6.43" textLength="5.18" lengthAdjust="spacingAndGlyphs">B3</text>
<text class="t" transform="rotate(-90 245.55 410.98)" x="240.87" y="413.23" font-size="6.43" textLength="9.35" lengthAdjust="spacingAndGlyphs">IO15</text>
<text class="n" transform="rotate(-90 245.5 398.15)" x="243.65" y="400.15" font-size="5.71" textLength="3.7" lengthAdjust="spacingAndGlyphs">65</text>
<line x1="258.5" y1="392.6" x2="258.5" y2="423.5" stroke="#000" stroke-width="1"/>
<text class="t" transform="rotate(-90 253.91 420.41)" x="251.32" y="422.66" font-size="6.43" textLength="5.18" lengthAdjust="spacingAndGlyphs">B3</text>
<text class="t" transform="rotate(-90 253.91 410.98)" x="249.23" y="413.23" font-size="6.43" textLength="9.35" lengthAdjust="spacingAndGlyphs">IO16</text>
<text class="n" transform="rotate(-90 253.86 398.15)" x="252.01" y="400.15" font-size="5.71" textLength="3.7" lengthAdjust="spacingAndGlyphs">66</text>
<line x1="266.5" y1="392.6" x2="266.5" y2="423.5" stroke="#000" stroke-width="1"/>
<text class="t" transform="rotate(-90 262.27 420.41)" x="259.68" y="422.66" font-size="6.43" textLength="5.18" lengthAdjust="spacingAndGlyphs">B3</text>
<text class="t" transform="rotate(-90 262.27 410.98)" x="257.59" y="413.23" font-size="6.43" textLength="9.35" lengthAdjust="spacingAndGlyphs">IO17</text>
<text class="n" transform="rotate(-90 262.22 398.15)" x="260.37" y="400.15" font-size="5.71" textLength="3.7" lengthAdjust="spacingAndGlyphs">67</text>
<line x1="274.5" y1="392.6" x2="274.5" y2="423.5" stroke="#000" stroke-width="1"/>
<text class="t" transform="rotate(-90 270.63 420.41)" x="268.04" y="422.66" font-size="6.43" textLength="5.18" lengthAdjust="spacingAndGlyphs">B3</text>
<text class="t" transform="rotate(-90 270.63 410.98)" x="265.95" y="413.23" font-size="6.43" textLength="9.35" lengthAdjust="spacingAndGlyphs">IO18</text>
<text class="n" transform="rotate(-90 270.58 398.15)" x="268.73" y="400.15" font-size="5.71" textLength="3.7" lengthAdjust="spacingAndGlyphs">68</text>
<line x1="283.5" y1="392.6" x2="283.5" y2="423.5" stroke="#000" stroke-width="1"/>
<text class="t" transform="rotate(-90 278.99 420.41)" x="276.4" y="422.66" font-size="6.43" textLength="5.18" lengthAdjust="spacingAndGlyphs">B3</text>
<text class="t" transform="rotate(-90 278.99 410.98)" x="274.31" y="413.23" font-size="6.43" textLength="9.35" lengthAdjust="spacingAndGlyphs">IO19</text>
<text class="n" transform="rotate(-90 278.94 398.15)" x="277.09" y="400.15" font-size="5.71" textLength="3.7" lengthAdjust="spacingAndGlyphs">69</text>
<line x1="291.5" y1="392.6" x2="291.5" y2="423.5" stroke="#000" stroke-width="1"/>
<text class="t" transform="rotate(-90 287.35 420.41)" x="284.76" y="422.66" font-size="6.43" textLength="5.18" lengthAdjust="spacingAndGlyphs">B3</text>
<text class="t" transform="rotate(-90 287.35 410.98)" x="282.67" y="413.23" font-size="6.43" textLength="9.35" lengthAdjust="spacingAndGlyphs">IO20</text>
<text class="n" transform="rotate(-90 287.3 398.15)" x="285.45" y="400.15" font-size="5.71" textLength="3.7" lengthAdjust="spacingAndGlyphs">70</text>
<line x1="299.5" y1="392.6" x2="299.5" y2="423.5" stroke="#000" stroke-width="1"/>
<text class="t" transform="rotate(-90 295.71 420.41)" x="293.12" y="422.66" font-size="6.43" textLength="5.18" lengthAdjust="spacingAndGlyphs">B3</text>
<text class="t" transform="rotate(-90 295.71 410.98)" x="291.03" y="413.23" font-size="6.43" textLength="9.35" lengthAdjust="spacingAndGlyphs">IO21</text>
<text class="n" transform="rotate(-90 295.66 398.15)" x="293.81" y="400.15" font-size="5.71" textLength="3.7" lengthAdjust="spacingAndGlyphs">71</text>
<line x1="308.5" y1="392.6" x2="308.5" y2="423.5" stroke="#000" stroke-width="1"/>
<text class="t" transform="rotate(-90 304.07 420.41)" x="301.48" y="422.66" font-size="6.43" textLength="5.18" lengthAdjust="spacingAndGlyphs">B3</text>
<text class="t" transform="rotate(-90 304.07 410.98)" x="299.39" y="413.23" font-size="6.43" textLength="9.35" lengthAdjust="spacingAndGlyphs">IO22</text>
<text class="n" transform="rotate(-90 304.02 398.15)" x="302.17" y="400.15" font-size="5.71" textLength="3.7" lengthAdjust="spacingAndGlyphs">72</text>
<line x1="316.5" y1="392.6" x2="316.5" y2="423.5" stroke="#000" stroke-width="1"/>
<text class="t" transform="rotate(-90 312.43 420.41)" x="309.84" y="422.66" font-size="6.43" textLength="5.18" lengthAdjust="spacingAndGlyphs">B3</text>
<text class="t" transform="rotate(-90 312.43 410.98)" x="307.75" y="413.23" font-size="6.43" textLength="9.35" lengthAdjust="spacingAndGlyphs">IO23</text>
<text class="n" transform="rotate(-90 312.38 398.15)" x="310.53" y="400.15" font-size="5.71" textLength="3.7" lengthAdjust="spacingAndGlyphs">73</text>
<line x1="325.5" y1="392.6" x2="325.5" y2="423.5" stroke="#000" stroke-width="1"/>
<text class="t" transform="rotate(-90 320.79 420.41)" x="318.2" y="422.66" font-size="6.43" textLength="5.18" lengthAdjust="spacingAndGlyphs">B3</text>
<text class="t" transform="rotate(-90 320.79 410.98)" x="316.11" y="413.23" font-size="6.43" textLength="9.35" lengthAdjust="spacingAndGlyphs">IO24</text>
<text class="n" transform="rotate(-90 320.74 398.15)" x="318.89" y="400.15" font-size="5.71" textLength="3.7" lengthAdjust="spacingAndGlyphs">74</text>
<line x1="333.5" y1="392.6" x2="333.5" y2="423.5" stroke="#000" stroke-width="1"/>
<text class="t" transform="rotate(-90 329.15 420.41)" x="326.56" y="422.66" font-size="6.43" textLength="5.18" lengthAdjust="spacingAndGlyphs">B3</text>
<text class="t" transform="rotate(-90 329.15 410.98)" x="324.47" y="413.23" font-size="6.43" textLength="9.35" lengthAdjust="spacingAndGlyphs">IO25</text>
<text class="n" transform="rotate(-90 329.1 398.15)" x="327.25" y="400.15" font-size="5.71" textLength="3.7" lengthAdjust="spacingAndGlyphs">75</text>
<line x1="341.5" y1="392.6" x2="341.5" y2="423.5" stroke="#000" stroke-width="1"/>
<text class="t" transform="rotate(-90 337.51 420.41)" x="334.92" y="422.66" font-size="6.43" textLength="5.18" lengthAdjust="spacingAndGlyphs">B3</text>
<text class="t" transform="rotate(-90 337.51 410.98)" x="332.83" y="413.23" font-size="6.43" textLength="9.35" lengthAdjust="spacingAndGlyphs">IO26</text>
<text class="n" transform="rotate(-90 337.46 398.15)" x="335.61" y="400.15" font-size="5.71" textLength="3.7" lengthAdjust="spacingAndGlyphs">76</text>
<line x1="350.5" y1="392.6" x2="350.5" y2="423.5" stroke="#000" stroke-width="1"/>
<text class="t" transform="rotate(-90 345.87 420.41)" x="343.28" y="422.66" font-size="6.43" textLength="5.18" lengthAdjust="spacingAndGlyphs">B3</text>
<text class="t" transform="rotate(-90 345.87 410.98)" x="341.19" y="413.23" font-size="6.43" textLength="9.35" lengthAdjust="spacingAndGlyphs">IO27</text>
<text class="n" transform="rotate(-90 345.82 398.15)" x="343.97" y="400.15" font-size="5.71" textLength="3.7" lengthAdjust="spacingAndGlyphs">77</text>
<line x1="358.5" y1="392.6" x2="358.5" y2="423.5" stroke="#000" stroke-width="1"/>
<text class="t" transform="rotate(-90 354.23 420.41)" x="351.64" y="422.66" font-size="6.43" textLength="5.18" lengthAdjust="spacingAndGlyphs">B3</text>
<text class="t" transform="rotate(-90 354.23 410.98)" x="349.55" y="413.23" font-size="6.43" textLength="9.35" lengthAdjust="spacingAndGlyphs">IO28</text>
<text class="n" transform="rotate(-90 354.18 398.15)" x="352.33" y="400.15" font-size="5.71" textLength="3.7" lengthAdjust="spacingAndGlyphs">78</text>
<line x1="366.5" y1="392.6" x2="366.5" y2="423.5" stroke="#000" stroke-width="1"/>
<text class="t" transform="rotate(-90 362.59 420.41)" x="360" y="422.66" font-size="6.43" textLength="5.18" lengthAdjust="spacingAndGlyphs">B3</text>
<text class="t" transform="rotate(-90 362.59 410.98)" x="357.91" y="413.23" font-size="6.43" textLength="9.35" lengthAdjust="spacingAndGlyphs">IO29</text>
<text class="n" transform="rotate(-90 362.54 398.15)" x="360.69" y="400.15" font-size="5.71" textLength="3.7" lengthAdjust="spacingAndGlyphs">79</text>
<line x1="375.5" y1="392.6" x2="375.5" y2="423.5" stroke="#000" stroke-width="1"/>
<text class="t" transform="rotate(-90 370.95 420.41)" x="368.36" y="422.66" font-size="6.43" textLength="5.18" lengthAdjust="spacingAndGlyphs">B3</text>
<text class="t" transform="rotate(-90 370.95 410.98)" x="366.27" y="413.23" font-size="6.43" textLength="9.35" lengthAdjust="spacingAndGlyphs">IO30</text>
<text class="n" transform="rotate(-90 370.9 398.15)" x="369.05" y="400.15" font-size="5.71" textLength="3.7" lengthAdjust="spacingAndGlyphs">80</text>
<line x1="383.5" y1="392.6" x2="383.5" y2="423.5" stroke="#000" stroke-width="1"/>
<text class="t" transform="rotate(-90 379.31 420.41)" x="376.72" y="422.66" font-size="6.43" textLength="5.18" lengthAdjust="spacingAndGlyphs">B3</text>
<text class="t" transform="rotate(-90 379.31 410.98)" x="374.63" y="413.23" font-size="6.43" textLength="9.35" lengthAdjust="spacingAndGlyphs">IO31</text>
<text class="n" transform="rotate(-90 379.26 398.15)" x="377.41" y="400.15" font-size="5.71" textLength="3.7" lengthAdjust="spacingAndGlyphs">81</text>
<line x1="391.5" y1="392.6" x2="391.5" y2="423.5" stroke="#000" stroke-width="1"/>
<text class="t" transform="rotate(-90 387.67 420.41)" x="385.08" y="422.66" font-size="6.43" textLength="5.18" lengthAdjust="spacingAndGlyphs">B3</text>
<text class="t" transform="rotate(-90 387.67 410.98)" x="382.99" y="413.23" font-size="6.43" textLength="9.35" lengthAdjust="spacingAndGlyphs">IO32</text>
<text class="n" transform="rotate(-90 387.62 398.15)" x="385.77" y="400.15" font-size="5.71" textLength="3.7" lengthAdjust="spacingAndGlyphs">82</text>
<line x1="400.5" y1="392.6" x2="400.5" y2="423.5" stroke="#000" stroke-width="1"/>
<text class="t" transform="rotate(-90 396.03 420.41)" x="393.44" y="422.66" font-size="6.43" textLength="5.18" lengthAdjust="spacingAndGlyphs">B3</text>
<text class="t" transform="rotate(-90 396.03 410.98)" x="391.35" y="413.23" font-size="6.43" textLength="9.35" lengthAdjust="spacingAndGlyphs">IO33</text>
<text class="n" transform="rotate(-90 395.98 398.15)" x="394.13" y="400.15" font-size="5.71" textLength="3.7" lengthAdjust="spacingAndGlyphs">83</text>
<text class="m" transform="rotate(-90 208 375.75)" x="195.55" y="377.95" font-size="6.29" textLength="24.9" lengthAdjust="spacingAndGlyphs">IO, LVDS40P</text>
<text class="m" transform="rotate(-90 216.36 375.75)" x="203.91" y="377.95" font-size="6.29" textLength="24.9" lengthAdjust="spacingAndGlyphs">IO, LVDS40N</text>
<text class="m" transform="rotate(-90 224.72 375.75)" x="212.27" y="377.95" font-size="6.29" textLength="24.9" lengthAdjust="spacingAndGlyphs">IO, LVDS41P</text>
<text class="m" transform="rotate(-90 233.08 375.75)" x="220.63" y="377.95" font-size="6.29" textLength="24.9" lengthAdjust="spacingAndGlyphs">IO, LVDS41N</text>
<text class="m" transform="rotate(-90 241.44 375.35)" x="228.59" y="377.55" font-size="6.29" textLength="25.7" lengthAdjust="spacingAndGlyphs">IO, VREF0B3</text>
<text class="m" transform="rotate(-90 249.8 377)" x="238.6" y="379.2" font-size="6.29" textLength="22.4" lengthAdjust="spacingAndGlyphs">IO, DQ0B7</text>
<text class="m" transform="rotate(-90 258.16 367.45)" x="237.41" y="369.65" font-size="6.29" textLength="41.5" lengthAdjust="spacingAndGlyphs">IO, LVDS42P (DQ0B6)</text>
<text class="m" transform="rotate(-90 266.52 366.6)" x="244.92" y="368.8" font-size="6.29" textLength="43.2" lengthAdjust="spacingAndGlyphs">IO, LVDS42N (DQ0B5)</text>
<text class="m" transform="rotate(-90 274.88 366.6)" x="253.28" y="368.8" font-size="6.29" textLength="43.2" lengthAdjust="spacingAndGlyphs">IO, LVDS43P (DQ0B4)</text>
<text class="m" transform="rotate(-90 283.24 376.6)" x="271.64" y="378.8" font-size="6.29" textLength="23.2" lengthAdjust="spacingAndGlyphs">IO, DQ0B3</text>
<text class="m" transform="rotate(-90 291.6 375.35)" x="278.75" y="377.55" font-size="6.29" textLength="25.7" lengthAdjust="spacingAndGlyphs">IO, VREF1B3</text>
<text class="m" transform="rotate(-90 299.96 386.1)" x="297.86" y="388.3" font-size="6.29" textLength="4.2" lengthAdjust="spacingAndGlyphs">IO</text>
<text class="m" transform="rotate(-90 308.32 386.1)" x="306.22" y="388.3" font-size="6.29" textLength="4.2" lengthAdjust="spacingAndGlyphs">IO</text>
<text class="m" transform="rotate(-90 316.68 378.1)" x="306.58" y="380.3" font-size="6.29" textLength="20.2" lengthAdjust="spacingAndGlyphs">IO, DPCLK6</text>
<text class="m" transform="rotate(-90 325.04 366.6)" x="303.44" y="368.8" font-size="6.29" textLength="43.2" lengthAdjust="spacingAndGlyphs">IO, LVDS44P (DQ0B2)</text>
<text class="m" transform="rotate(-90 333.4 366.6)" x="311.8" y="368.8" font-size="6.29" textLength="43.2" lengthAdjust="spacingAndGlyphs">IO, LVDS44N (DQ0B1)</text>
<text class="m" transform="rotate(-90 341.76 367.6)" x="321.16" y="369.8" font-size="6.29" textLength="41.2" lengthAdjust="spacingAndGlyphs">IO, DPCLK7 (DQ0B0)</text>
<text class="m" transform="rotate(-90 350.12 375.6)" x="337.52" y="377.8" font-size="6.29" textLength="25.2" lengthAdjust="spacingAndGlyphs">IO, VREF2B3</text>
<text class="m" transform="rotate(-90 358.48 366.6)" x="336.88" y="368.8" font-size="6.29" textLength="43.2" lengthAdjust="spacingAndGlyphs">IO, LVDS45P (DQ1B7)</text>
<text class="m" transform="rotate(-90 366.84 366.6)" x="345.24" y="368.8" font-size="6.29" textLength="43.2" lengthAdjust="spacingAndGlyphs">IO, LVDS45N (DQ1B6)</text>
<text class="m" transform="rotate(-90 375.2 376.1)" x="363.1" y="378.3" font-size="6.29" textLength="24.2" lengthAdjust="spacingAndGlyphs">IO, LVDS46P</text>
<text class="m" transform="rotate(-90 383.56 376.1)" x="371.46" y="378.3" font-size="6.29" textLength="24.2" lengthAdjust="spacingAndGlyphs">IO, LVDS46N</text>
<text class="m" transform="rotate(-90 391.92 376.1)" x="379.82" y="378.3" font-size="6.29" textLength="24.2" lengthAdjust="spacingAndGlyphs">IO, LVDS47P</text>
<text class="m" transform="rotate(-90 400.28 376.1)" x="388.18" y="378.3" font-size="6.29" textLength="24.2" lengthAdjust="spacingAndGlyphs">IO, LVDS47N</text>
<text class="s" transform="rotate(180 163.3 213.7)" x="121.6" y="215.5" font-size="5.14" textLength="83.4" lengthAdjust="spacingAndGlyphs">IO, LVDS20P (DQ1L0) DPCLK</text>
<rect x="110" y="213.1" width="2.2" height="1.2" fill="#999"/>
<line x1="73.8" y1="213.5" x2="107.6" y2="213.5" stroke="#000" stroke-width="1"/>
<text class="t" transform="rotate(180 68.2 216.3)" x="63.2" y="218.1" font-size="5.14" textLength="10" lengthAdjust="spacingAndGlyphs">IO 1</text>
<text class="s" transform="rotate(180 75.8 216.3)" x="74.3" y="218" font-size="4.86" textLength="3" lengthAdjust="spacingAndGlyphs">IO</text>
<text class="s" transform="rotate(180 86.5 216.3)" x="82.8" y="218" font-size="4.86" textLength="7.4" lengthAdjust="spacingAndGlyphs">B1&gt;</text>
<text class="s" transform="rotate(180 103.2 216.3)" x="99" y="218" font-size="4.86" textLength="8.4" lengthAdjust="spacingAndGlyphs">IO3</text>
<text class="s" transform="rotate(180 159.15 218.8)" x="121.6" y="220.6" font-size="5.14" textLength="75.1" lengthAdjust="spacingAndGlyphs">IO, LVDS19P (DQ1L1) DPCLK</text>
<rect x="110" y="218.2" width="2.2" height="1.2" fill="#999"/>
<line x1="73.8" y1="218.5" x2="107.6" y2="218.5" stroke="#000" stroke-width="1"/>
<text class="t" transform="rotate(180 68.2 221.4)" x="63.2" y="223.2" font-size="5.14" textLength="10" lengthAdjust="spacingAndGlyphs">IO 8</text>
<text class="s" transform="rotate(180 75.8 221.4)" x="74.3" y="223.1" font-size="4.86" textLength="3" lengthAdjust="spacingAndGlyphs">IO</text>
<text class="s" transform="rotate(180 86.5 221.4)" x="82.8" y="223.1" font-size="4.86" textLength="7.4" lengthAdjust="spacingAndGlyphs">B1&gt;</text>
<text class="s" transform="rotate(180 103.2 221.4)" x="99" y="223.1" font-size="4.86" textLength="8.4" lengthAdjust="spacingAndGlyphs">IO4</text>
<text class="s" transform="rotate(180 156.2 223.9)" x="121.6" y="225.7" font-size="5.14" textLength="69.2" lengthAdjust="spacingAndGlyphs">IO, LVDS18P (DQ1L2) DPCLK</text>
<rect x="110" y="223.3" width="2.2" height="1.2" fill="#999"/>
<line x1="73.8" y1="223.5" x2="107.6" y2="223.5" stroke="#000" stroke-width="1"/>
<text class="t" transform="rotate(180 68.2 226.5)" x="63.2" y="228.3" font-size="5.14" textLength="10" lengthAdjust="spacingAndGlyphs">IO 6</text>
<text class="s" transform="rotate(180 75.8 226.5)" x="74.3" y="228.2" font-size="4.86" textLength="3" lengthAdjust="spacingAndGlyphs">IO</text>
<text class="s" transform="rotate(180 86.5 226.5)" x="82.8" y="228.2" font-size="4.86" textLength="7.4" lengthAdjust="spacingAndGlyphs">B1&gt;</text>
<text class="s" transform="rotate(180 103.2 226.5)" x="99" y="228.2" font-size="4.86" textLength="8.4" lengthAdjust="spacingAndGlyphs">IO5</text>
<text class="s" transform="rotate(180 156.2 229)" x="121.6" y="230.8" font-size="5.14" textLength="69.2" lengthAdjust="spacingAndGlyphs">IO, LVDS17P (DQ1L3) DPCLK</text>
<rect x="110" y="228.4" width="2.2" height="1.2" fill="#999"/>
<line x1="73.8" y1="229.5" x2="107.6" y2="229.5" stroke="#000" stroke-width="1"/>
<text class="t" transform="rotate(180 68.2 231.6)" x="63.2" y="233.4" font-size="5.14" textLength="10" lengthAdjust="spacingAndGlyphs">IO 4</text>
<text class="s" transform="rotate(180 75.8 231.6)" x="74.3" y="233.3" font-size="4.86" textLength="3" lengthAdjust="spacingAndGlyphs">IO</text>
<text class="s" transform="rotate(180 86.5 231.6)" x="82.8" y="233.3" font-size="4.86" textLength="7.4" lengthAdjust="spacingAndGlyphs">B1&gt;</text>
<text class="s" transform="rotate(180 103.2 231.6)" x="99" y="233.3" font-size="4.86" textLength="8.4" lengthAdjust="spacingAndGlyphs">IO6</text>
<text class="s" transform="rotate(180 156.2 234.1)" x="121.6" y="235.9" font-size="5.14" textLength="69.2" lengthAdjust="spacingAndGlyphs">IO, LVDS16P (DQ1L4) DPCLK</text>
<rect x="110" y="233.5" width="2.2" height="1.2" fill="#999"/>
<line x1="73.8" y1="234.5" x2="107.6" y2="234.5" stroke="#000" stroke-width="1"/>
<text class="t" transform="rotate(180 68.2 236.7)" x="63.2" y="238.5" font-size="5.14" textLength="10" lengthAdjust="spacingAndGlyphs">IO 2</text>
<text class="s" transform="rotate(180 75.8 236.7)" x="74.3" y="238.4" font-size="4.86" textLength="3" lengthAdjust="spacingAndGlyphs">IO</text>
<text class="s" transform="rotate(180 86.5 236.7)" x="82.8" y="238.4" font-size="4.86" textLength="7.4" lengthAdjust="spacingAndGlyphs">B1&gt;</text>
<text class="s" transform="rotate(180 103.2 236.7)" x="99" y="238.4" font-size="4.86" textLength="8.4" lengthAdjust="spacingAndGlyphs">IO7</text>
<text class="s" transform="rotate(180 156.2 239.2)" x="121.6" y="241" font-size="5.14" textLength="69.2" lengthAdjust="spacingAndGlyphs">IO, LVDS15P (DQ1L5) DPCLK</text>
<rect x="110" y="238.6" width="2.2" height="1.2" fill="#999"/>
<line x1="73.8" y1="239.5" x2="107.6" y2="239.5" stroke="#000" stroke-width="1"/>
<text class="t" transform="rotate(180 68.2 241.8)" x="63.2" y="243.6" font-size="5.14" textLength="10" lengthAdjust="spacingAndGlyphs">IO 9</text>
<text class="s" transform="rotate(180 75.8 241.8)" x="74.3" y="243.5" font-size="4.86" textLength="3" lengthAdjust="spacingAndGlyphs">IO</text>
<text class="s" transform="rotate(180 86.5 241.8)" x="82.8" y="243.5" font-size="4.86" textLength="7.4" lengthAdjust="spacingAndGlyphs">B1&gt;</text>
<text class="s" transform="rotate(180 103.2 241.8)" x="99" y="243.5" font-size="4.86" textLength="8.4" lengthAdjust="spacingAndGlyphs">IO8</text>
<text class="s" transform="rotate(180 156.65 244.3)" x="121.6" y="246.1" font-size="5.14" textLength="70.1" lengthAdjust="spacingAndGlyphs">IO, LVDS14P (DQ1L6) DPCLK</text>
<rect x="110" y="243.7" width="2.2" height="1.2" fill="#999"/>
<line x1="73.8" y1="244.5" x2="107.6" y2="244.5" stroke="#000" stroke-width="1"/>
<text class="t" transform="rotate(180 68.2 246.9)" x="63.2" y="248.7" font-size="5.14" textLength="10" lengthAdjust="spacingAndGlyphs">IO 7</text>
<text class="s" transform="rotate(180 75.8 246.9)" x="74.3" y="248.6" font-size="4.86" textLength="3" lengthAdjust="spacingAndGlyphs">IO</text>
<text class="s" transform="rotate(180 86.5 246.9)" x="82.8" y="248.6" font-size="4.86" textLength="7.4" lengthAdjust="spacingAndGlyphs">B1&gt;</text>
<text class="s" transform="rotate(180 103.2 246.9)" x="99" y="248.6" font-size="4.86" textLength="8.4" lengthAdjust="spacingAndGlyphs">IO9</text>
<text class="s" transform="rotate(180 143.3 249.4)" x="121.6" y="251.2" font-size="5.14" textLength="43.4" lengthAdjust="spacingAndGlyphs">IO, LVDS17N</text>
<rect x="110" y="248.8" width="2.2" height="1.2" fill="#999"/>
<line x1="73.8" y1="249.5" x2="107.6" y2="249.5" stroke="#000" stroke-width="1"/>
<text class="t" transform="rotate(180 68.2 252)" x="63.2" y="253.8" font-size="5.14" textLength="10" lengthAdjust="spacingAndGlyphs">IO 5</text>
<text class="s" transform="rotate(180 75.8 252)" x="74.3" y="253.7" font-size="4.86" textLength="3" lengthAdjust="spacingAndGlyphs">IO</text>
<text class="s" transform="rotate(180 86.5 252)" x="82.8" y="253.7" font-size="4.86" textLength="7.4" lengthAdjust="spacingAndGlyphs">B1&gt;</text>
<text class="s" transform="rotate(180 103.2 252)" x="99" y="253.7" font-size="4.86" textLength="8.4" lengthAdjust="spacingAndGlyphs">IO10</text>
<text class="s" transform="rotate(180 126.2 254.5)" x="121.6" y="256.3" font-size="5.14" textLength="9.2" lengthAdjust="spacingAndGlyphs">IO,</text>
<rect x="110" y="253.9" width="2.2" height="1.2" fill="#999"/>
<line x1="73.8" y1="254.5" x2="107.6" y2="254.5" stroke="#000" stroke-width="1"/>
<text class="t" transform="rotate(180 68.2 257.1)" x="63.2" y="258.9" font-size="5.14" textLength="10" lengthAdjust="spacingAndGlyphs">IO 3</text>
<text class="s" transform="rotate(180 75.8 257.1)" x="74.3" y="258.8" font-size="4.86" textLength="3" lengthAdjust="spacingAndGlyphs">IO</text>
<text class="s" transform="rotate(180 86.5 257.1)" x="82.8" y="258.8" font-size="4.86" textLength="7.4" lengthAdjust="spacingAndGlyphs">B1&gt;</text>
<text class="s" transform="rotate(180 103.2 257.1)" x="99" y="258.8" font-size="4.86" textLength="8.4" lengthAdjust="spacingAndGlyphs">IO11</text>
<text class="s" transform="rotate(180 141.2 259.6)" x="121.6" y="261.4" font-size="5.14" textLength="39.2" lengthAdjust="spacingAndGlyphs">IO, LVDS19N</text>
<rect x="110" y="259" width="2.2" height="1.2" fill="#999"/>
<line x1="73.8" y1="259.5" x2="107.6" y2="259.5" stroke="#000" stroke-width="1"/>
<text class="t" transform="rotate(180 68.2 262.2)" x="63.2" y="264" font-size="5.14" textLength="10" lengthAdjust="spacingAndGlyphs">IO 1</text>
<text class="s" transform="rotate(180 75.8 262.2)" x="74.3" y="263.9" font-size="4.86" textLength="3" lengthAdjust="spacingAndGlyphs">IO</text>
<text class="s" transform="rotate(180 86.5 262.2)" x="82.8" y="263.9" font-size="4.86" textLength="7.4" lengthAdjust="spacingAndGlyphs">B1&gt;</text>
<text class="s" transform="rotate(180 103.2 262.2)" x="99" y="263.9" font-size="4.86" textLength="8.4" lengthAdjust="spacingAndGlyphs">IO12</text>
<text class="s" transform="rotate(180 141.2 264.7)" x="121.6" y="266.5" font-size="5.14" textLength="39.2" lengthAdjust="spacingAndGlyphs">IO, LVDS20N</text>
<rect x="110" y="264.1" width="2.2" height="1.2" fill="#999"/>
<line x1="73.8" y1="264.5" x2="107.6" y2="264.5" stroke="#000" stroke-width="1"/>
<text class="t" transform="rotate(180 68.2 267.3)" x="63.2" y="269.1" font-size="5.14" textLength="10" lengthAdjust="spacingAndGlyphs">IO 8</text>
<text class="s" transform="rotate(180 75.8 267.3)" x="74.3" y="269" font-size="4.86" textLength="3" lengthAdjust="spacingAndGlyphs">IO</text>
<text class="s" transform="rotate(180 86.5 267.3)" x="82.8" y="269" font-size="4.86" textLength="7.4" lengthAdjust="spacingAndGlyphs">B1&gt;</text>
<text class="s" transform="rotate(180 103.2 267.3)" x="99" y="269" font-size="4.86" textLength="8.4" lengthAdjust="spacingAndGlyphs">IO13</text>
<text class="s" transform="rotate(180 141.2 269.8)" x="121.6" y="271.6" font-size="5.14" textLength="39.2" lengthAdjust="spacingAndGlyphs">IO, LVDS21N</text>
<rect x="110" y="269.2" width="2.2" height="1.2" fill="#999"/>
<line x1="73.8" y1="269.5" x2="107.6" y2="269.5" stroke="#000" stroke-width="1"/>
<text class="t" transform="rotate(180 68.2 272.4)" x="63.2" y="274.2" font-size="5.14" textLength="10" lengthAdjust="spacingAndGlyphs">IO 6</text>
<text class="s" transform="rotate(180 75.8 272.4)" x="74.3" y="274.1" font-size="4.86" textLength="3" lengthAdjust="spacingAndGlyphs">IO</text>
<text class="s" transform="rotate(180 86.5 272.4)" x="82.8" y="274.1" font-size="4.86" textLength="7.4" lengthAdjust="spacingAndGlyphs">B1&gt;</text>
<text class="s" transform="rotate(180 103.2 272.4)" x="99" y="274.1" font-size="4.86" textLength="8.4" lengthAdjust="spacingAndGlyphs">IO14</text>
<text class="s" transform="rotate(180 141.2 274.9)" x="121.6" y="276.7" font-size="5.14" textLength="39.2" lengthAdjust="spacingAndGlyphs">IO, LVDS22N</text>
<rect x="110" y="274.3" width="2.2" height="1.2" fill="#999"/>
<line x1="73.8" y1="274.5" x2="107.6" y2="274.5" stroke="#000" stroke-width="1"/>
<text class="t" transform="rotate(180 68.2 277.5)" x="63.2" y="279.3" font-size="5.14" textLength="10" lengthAdjust="spacingAndGlyphs">IO 4</text>
<text class="s" transform="rotate(180 75.8 277.5)" x="74.3" y="279.2" font-size="4.86" textLength="3" lengthAdjust="spacingAndGlyphs">IO</text>
<text class="s" transform="rotate(180 86.5 277.5)" x="82.8" y="279.2" font-size="4.86" textLength="7.4" lengthAdjust="spacingAndGlyphs">B1&gt;</text>
<text class="s" transform="rotate(180 103.2 277.5)" x="99" y="279.2" font-size="4.86" textLength="8.4" lengthAdjust="spacingAndGlyphs">IO15</text>
<text class="s" transform="rotate(180 143.3 280)" x="121.6" y="281.8" font-size="5.14" textLength="43.4" lengthAdjust="spacingAndGlyphs">IO, LVDS23N</text>
<rect x="110" y="279.4" width="2.2" height="1.2" fill="#999"/>
<line x1="73.8" y1="280.5" x2="107.6" y2="280.5" stroke="#000" stroke-width="1"/>
<text class="t" transform="rotate(180 68.2 282.6)" x="63.2" y="284.4" font-size="5.14" textLength="10" lengthAdjust="spacingAndGlyphs">IO 2</text>
<text class="s" transform="rotate(180 75.8 282.6)" x="74.3" y="284.3" font-size="4.86" textLength="3" lengthAdjust="spacingAndGlyphs">IO</text>
<text class="s" transform="rotate(180 86.5 282.6)" x="82.8" y="284.3" font-size="4.86" textLength="7.4" lengthAdjust="spacingAndGlyphs">B1&gt;</text>
<text class="s" transform="rotate(180 103.2 282.6)" x="99" y="284.3" font-size="4.86" textLength="8.4" lengthAdjust="spacingAndGlyphs">IO16</text>
<text class="s" transform="rotate(180 143.3 285.1)" x="121.6" y="286.9" font-size="5.14" textLength="43.4" lengthAdjust="spacingAndGlyphs">IO, LVDS24N</text>
<rect x="110" y="284.5" width="2.2" height="1.2" fill="#999"/>
<line x1="73.8" y1="285.5" x2="107.6" y2="285.5" stroke="#000" stroke-width="1"/>
<text class="t" transform="rotate(180 68.2 287.7)" x="63.2" y="289.5" font-size="5.14" textLength="10" lengthAdjust="spacingAndGlyphs">IO 9</text>
<text class="s" transform="rotate(180 75.8 287.7)" x="74.3" y="289.4" font-size="4.86" textLength="3" lengthAdjust="spacingAndGlyphs">IO</text>
<text class="s" transform="rotate(180 86.5 287.7)" x="82.8" y="289.4" font-size="4.86" textLength="7.4" lengthAdjust="spacingAndGlyphs">B1&gt;</text>
<text class="s" transform="rotate(180 103.2 287.7)" x="99" y="289.4" font-size="4.86" textLength="8.4" lengthAdjust="spacingAndGlyphs">IO17</text>
<text class="s" transform="rotate(180 143.3 290.2)" x="121.6" y="292" font-size="5.14" textLength="43.4" lengthAdjust="spacingAndGlyphs">IO, LVDS25N</text>
<rect x="110" y="289.6" width="2.2" height="1.2" fill="#999"/>
<line x1="73.8" y1="290.5" x2="107.6" y2="290.5" stroke="#000" stroke-width="1"/>
<text class="t" transform="rotate(180 68.2 292.8)" x="63.2" y="294.6" font-size="5.14" textLength="10" lengthAdjust="spacingAndGlyphs">IO 7</text>
<text class="s" transform="rotate(180 75.8 292.8)" x="74.3" y="294.5" font-size="4.86" textLength="3" lengthAdjust="spacingAndGlyphs">IO</text>
<text class="s" transform="rotate(180 86.5 292.8)" x="82.8" y="294.5" font-size="4.86" textLength="7.4" lengthAdjust="spacingAndGlyphs">B1&gt;</text>
<text class="s" transform="rotate(180 103.2 292.8)" x="99" y="294.5" font-size="4.86" textLength="8.4" lengthAdjust="spacingAndGlyphs">IO18</text>
<text class="s" transform="rotate(180 143.3 295.3)" x="121.6" y="297.1" font-size="5.14" textLength="43.4" lengthAdjust="spacingAndGlyphs">IO, LVDS26N</text>
<rect x="110" y="294.7" width="2.2" height="1.2" fill="#999"/>
<line x1="73.8" y1="295.5" x2="107.6" y2="295.5" stroke="#000" stroke-width="1"/>
<text class="t" transform="rotate(180 68.2 297.9)" x="63.2" y="299.7" font-size="5.14" textLength="10" lengthAdjust="spacingAndGlyphs">IO 5</text>
<text class="s" transform="rotate(180 75.8 297.9)" x="74.3" y="299.6" font-size="4.86" textLength="3" lengthAdjust="spacingAndGlyphs">IO</text>
<text class="s" transform="rotate(180 86.5 297.9)" x="82.8" y="299.6" font-size="4.86" textLength="7.4" lengthAdjust="spacingAndGlyphs">B1&gt;</text>
<text class="s" transform="rotate(180 103.2 297.9)" x="99" y="299.6" font-size="4.86" textLength="8.4" lengthAdjust="spacingAndGlyphs">IO19</text>
<text class="s" transform="rotate(180 156.65 300.4)" x="121.6" y="302.2" font-size="5.14" textLength="70.1" lengthAdjust="spacingAndGlyphs">IO, LVDS12P (DQ1L1) DPCLK</text>
<rect x="110" y="299.8" width="2.2" height="1.2" fill="#999"/>
<line x1="73.8" y1="300.5" x2="107.6" y2="300.5" stroke="#000" stroke-width="1"/>
<text class="t" transform="rotate(180 68.2 303)" x="63.2" y="304.8" font-size="5.14" textLength="10" lengthAdjust="spacingAndGlyphs">IO 3</text>
<text class="s" transform="rotate(180 75.8 303)" x="74.3" y="304.7" font-size="4.86" textLength="3" lengthAdjust="spacingAndGlyphs">IO</text>
<text class="s" transform="rotate(180 86.5 303)" x="82.8" y="304.7" font-size="4.86" textLength="7.4" lengthAdjust="spacingAndGlyphs">B1&gt;</text>
<text class="s" transform="rotate(180 103.2 303)" x="99" y="304.7" font-size="4.86" textLength="8.4" lengthAdjust="spacingAndGlyphs">IO20</text>
<text class="s" transform="rotate(180 143.3 305.5)" x="121.6" y="307.3" font-size="5.14" textLength="43.4" lengthAdjust="spacingAndGlyphs">IO, LVDS28N</text>
<rect x="110" y="304.9" width="2.2" height="1.2" fill="#999"/>
<line x1="73.8" y1="305.5" x2="107.6" y2="305.5" stroke="#000" stroke-width="1"/>
<text class="t" transform="rotate(180 68.2 308.1)" x="63.2" y="309.9" font-size="5.14" textLength="10" lengthAdjust="spacingAndGlyphs">IO 1</text>
<text class="s" transform="rotate(180 75.8 308.1)" x="74.3" y="309.8" font-size="4.86" textLength="3" lengthAdjust="spacingAndGlyphs">IO</text>
<text class="s" transform="rotate(180 86.5 308.1)" x="82.8" y="309.8" font-size="4.86" textLength="7.4" lengthAdjust="spacingAndGlyphs">B1&gt;</text>
<text class="s" transform="rotate(180 103.2 308.1)" x="99" y="309.8" font-size="4.86" textLength="8.4" lengthAdjust="spacingAndGlyphs">IO21</text>
<text class="s" transform="rotate(180 143.3 310.6)" x="121.6" y="312.4" font-size="5.14" textLength="43.4" lengthAdjust="spacingAndGlyphs">IO, LVDS29N</text>
<rect x="110" y="310" width="2.2" height="1.2" fill="#999"/>
<line x1="73.8" y1="310.5" x2="107.6" y2="310.5" stroke="#000" stroke-width="1"/>
<text class="t" transform="rotate(180 68.2 313.2)" x="63.2" y="315" font-size="5.14" textLength="10" lengthAdjust="spacingAndGlyphs">IO 8</text>
<text class="s" transform="rotate(180 75.8 313.2)" x="74.3" y="314.9" font-size="4.86" textLength="3" lengthAdjust="spacingAndGlyphs">IO</text>
<text class="s" transform="rotate(180 86.5 313.2)" x="82.8" y="314.9" font-size="4.86" textLength="7.4" lengthAdjust="spacingAndGlyphs">B1&gt;</text>
<text class="s" transform="rotate(180 103.2 313.2)" x="99" y="314.9" font-size="4.86" textLength="8.4" lengthAdjust="spacingAndGlyphs">IO22</text>
<text class="s" transform="rotate(180 143.3 315.7)" x="121.6" y="317.5" font-size="5.14" textLength="43.4" lengthAdjust="spacingAndGlyphs">IO, LVDS30N</text>
<rect x="110" y="315.1" width="2.2" height="1.2" fill="#999"/>
<line x1="73.8" y1="315.5" x2="107.6" y2="315.5" stroke="#000" stroke-width="1"/>
<text class="t" transform="rotate(180 68.2 318.3)" x="63.2" y="320.1" font-size="5.14" textLength="10" lengthAdjust="spacingAndGlyphs">IO 6</text>
<text class="s" transform="rotate(180 75.8 318.3)" x="74.3" y="320" font-size="4.86" textLength="3" lengthAdjust="spacingAndGlyphs">IO</text>
<text class="s" transform="rotate(180 86.5 318.3)" x="82.8" y="320" font-size="4.86" textLength="7.4" lengthAdjust="spacingAndGlyphs">B1&gt;</text>
<text class="s" transform="rotate(180 103.2 318.3)" x="99" y="320" font-size="4.86" textLength="8.4" lengthAdjust="spacingAndGlyphs">IO23</text>
<text class="s" transform="rotate(180 156.65 320.8)" x="121.6" y="322.6" font-size="5.14" textLength="70.1" lengthAdjust="spacingAndGlyphs">IO, LVDS17P (DQ1L5) DPCLK</text>
<rect x="110" y="320.2" width="2.2" height="1.2" fill="#999"/>
<line x1="73.8" y1="320.5" x2="107.6" y2="320.5" stroke="#000" stroke-width="1"/>
<text class="t" transform="rotate(180 68.2 323.4)" x="63.2" y="325.2" font-size="5.14" textLength="10" lengthAdjust="spacingAndGlyphs">IO 4</text>
<text class="s" transform="rotate(180 75.8 323.4)" x="74.3" y="325.1" font-size="4.86" textLength="3" lengthAdjust="spacingAndGlyphs">IO</text>
<text class="s" transform="rotate(180 86.5 323.4)" x="82.8" y="325.1" font-size="4.86" textLength="7.4" lengthAdjust="spacingAndGlyphs">B1&gt;</text>
<text class="s" transform="rotate(180 103.2 323.4)" x="99" y="325.1" font-size="4.86" textLength="8.4" lengthAdjust="spacingAndGlyphs">IO24</text>
<text class="s" transform="rotate(180 158.3 325.9)" x="121.6" y="327.7" font-size="5.14" textLength="73.4" lengthAdjust="spacingAndGlyphs">IO, LVDS16P (DQ1L6) DPCLK</text>
<rect x="110" y="325.3" width="2.2" height="1.2" fill="#999"/>
<line x1="73.8" y1="325.5" x2="107.6" y2="325.5" stroke="#000" stroke-width="1"/>
<text class="t" transform="rotate(180 68.2 328.5)" x="63.2" y="330.3" font-size="5.14" textLength="10" lengthAdjust="spacingAndGlyphs">IO 2</text>
<text class="s" transform="rotate(180 75.8 328.5)" x="74.3" y="330.2" font-size="4.86" textLength="3" lengthAdjust="spacingAndGlyphs">IO</text>
<text class="s" transform="rotate(180 86.5 328.5)" x="82.8" y="330.2" font-size="4.86" textLength="7.4" lengthAdjust="spacingAndGlyphs">B1&gt;</text>
<text class="s" transform="rotate(180 103.2 328.5)" x="99" y="330.2" font-size="4.86" textLength="8.4" lengthAdjust="spacingAndGlyphs">IO25</text>
<text class="s" transform="rotate(180 158.3 331)" x="121.6" y="332.8" font-size="5.14" textLength="73.4" lengthAdjust="spacingAndGlyphs">IO, LVDS15P (DQ1L7) DPCLK</text>
<rect x="110" y="330.4" width="2.2" height="1.2" fill="#999"/>
<line x1="73.8" y1="331.5" x2="107.6" y2="331.5" stroke="#000" stroke-width="1"/>
<text class="t" transform="rotate(180 68.2 333.6)" x="63.2" y="335.4" font-size="5.14" textLength="10" lengthAdjust="spacingAndGlyphs">IO 9</text>
<text class="s" transform="rotate(180 75.8 333.6)" x="74.3" y="335.3" font-size="4.86" textLength="3" lengthAdjust="spacingAndGlyphs">IO</text>
<text class="s" transform="rotate(180 86.5 333.6)" x="82.8" y="335.3" font-size="4.86" textLength="7.4" lengthAdjust="spacingAndGlyphs">B1&gt;</text>
<text class="s" transform="rotate(180 103.2 333.6)" x="99" y="335.3" font-size="4.86" textLength="8.4" lengthAdjust="spacingAndGlyphs">IO26</text>
<text class="s" transform="rotate(180 158.3 336.1)" x="121.6" y="337.9" font-size="5.14" textLength="73.4" lengthAdjust="spacingAndGlyphs">IO, LVDS14P (DQ1L0) DPCLK</text>
<rect x="110" y="335.5" width="2.2" height="1.2" fill="#999"/>
<line x1="73.8" y1="336.5" x2="107.6" y2="336.5" stroke="#000" stroke-width="1"/>
<text class="t" transform="rotate(180 68.2 338.7)" x="63.2" y="340.5" font-size="5.14" textLength="10" lengthAdjust="spacingAndGlyphs">IO 7</text>
<text class="s" transform="rotate(180 75.8 338.7)" x="74.3" y="340.4" font-size="4.86" textLength="3" lengthAdjust="spacingAndGlyphs">IO</text>
<text class="s" transform="rotate(180 86.5 338.7)" x="82.8" y="340.4" font-size="4.86" textLength="7.4" lengthAdjust="spacingAndGlyphs">B1&gt;</text>
<text class="s" transform="rotate(180 103.2 338.7)" x="99" y="340.4" font-size="4.86" textLength="8.4" lengthAdjust="spacingAndGlyphs">IO27</text>
<text class="s" transform="rotate(180 158.3 341.2)" x="121.6" y="343" font-size="5.14" textLength="73.4" lengthAdjust="spacingAndGlyphs">IO, LVDS13P (DQ1L1) DPCLK</text>
<rect x="110" y="340.6" width="2.2" height="1.2" fill="#999"/>
<line x1="73.8" y1="341.5" x2="107.6" y2="341.5" stroke="#000" stroke-width="1"/>
<text class="t" transform="rotate(180 68.2 343.8)" x="63.2" y="345.6" font-size="5.14" textLength="10" lengthAdjust="spacingAndGlyphs">IO 5</text>
<text class="s" transform="rotate(180 75.8 343.8)" x="74.3" y="345.5" font-size="4.86" textLength="3" lengthAdjust="spacingAndGlyphs">IO</text>
<text class="s" transform="rotate(180 86.5 343.8)" x="82.8" y="345.5" font-size="4.86" textLength="7.4" lengthAdjust="spacingAndGlyphs">B1&gt;</text>
<text class="s" transform="rotate(180 103.2 343.8)" x="99" y="345.5" font-size="4.86" textLength="8.4" lengthAdjust="spacingAndGlyphs">IO28</text>
<text class="s" transform="rotate(180 143.3 346.3)" x="121.6" y="348.1" font-size="5.14" textLength="43.4" lengthAdjust="spacingAndGlyphs">IO, LVDS36N</text>
<rect x="110" y="345.7" width="2.2" height="1.2" fill="#999"/>
<line x1="73.8" y1="346.5" x2="107.6" y2="346.5" stroke="#000" stroke-width="1"/>
<text class="t" transform="rotate(180 68.2 348.9)" x="63.2" y="350.7" font-size="5.14" textLength="10" lengthAdjust="spacingAndGlyphs">IO 3</text>
<text class="s" transform="rotate(180 75.8 348.9)" x="74.3" y="350.6" font-size="4.86" textLength="3" lengthAdjust="spacingAndGlyphs">IO</text>
<text class="s" transform="rotate(180 86.5 348.9)" x="82.8" y="350.6" font-size="4.86" textLength="7.4" lengthAdjust="spacingAndGlyphs">B1&gt;</text>
<text class="s" transform="rotate(180 103.2 348.9)" x="99" y="350.6" font-size="4.86" textLength="8.4" lengthAdjust="spacingAndGlyphs">IO29</text>
<text class="s" transform="rotate(180 143.3 351.4)" x="121.6" y="353.2" font-size="5.14" textLength="43.4" lengthAdjust="spacingAndGlyphs">IO, LVDS37N</text>
<rect x="110" y="350.8" width="2.2" height="1.2" fill="#999"/>
<line x1="73.8" y1="351.5" x2="107.6" y2="351.5" stroke="#000" stroke-width="1"/>
<text class="t" transform="rotate(180 68.2 354)" x="63.2" y="355.8" font-size="5.14" textLength="10" lengthAdjust="spacingAndGlyphs">IO 1</text>
<text class="s" transform="rotate(180 75.8 354)" x="74.3" y="355.7" font-size="4.86" textLength="3" lengthAdjust="spacingAndGlyphs">IO</text>
<text class="s" transform="rotate(180 86.5 354)" x="82.8" y="355.7" font-size="4.86" textLength="7.4" lengthAdjust="spacingAndGlyphs">B1&gt;</text>
<text class="s" transform="rotate(180 103.2 354)" x="99" y="355.7" font-size="4.86" textLength="8.4" lengthAdjust="spacingAndGlyphs">IO30</text>
<line x1="73.5" y1="213.7" x2="73.5" y2="356" stroke="#000" stroke-width="1"/>
<line x1="108" y1="213.7" x2="108" y2="356" stroke="#000" stroke-width="0.8"/>
<text class="s" transform="rotate(180 456.65 208.7)" x="435.5" y="210.5" font-size="5.14" textLength="42.3" lengthAdjust="spacingAndGlyphs">IO, LVDS30P</text>
<rect x="484.6" y="208.2" width="1.6" height="1" fill="#888"/>
<line x1="492" y1="208.5" x2="533.4" y2="208.5" stroke="#000" stroke-width="1"/>
<text class="t" transform="rotate(180 493.05 211.3)" x="490.3" y="213.1" font-size="5.14" textLength="5.5" lengthAdjust="spacingAndGlyphs">140</text>
<text class="s" transform="rotate(180 512.7 211.3)" x="506.8" y="213.1" font-size="5.14" textLength="11.8" lengthAdjust="spacingAndGlyphs">(IO10)</text>
<text class="r" transform="rotate(180 528.85 211.3)" x="525.3" y="213" font-size="4.86" textLength="7.1" lengthAdjust="spacingAndGlyphs">B4</text>
<text class="s" transform="rotate(180 456.65 213.78)" x="435.5" y="215.58" font-size="5.14" textLength="42.3" lengthAdjust="spacingAndGlyphs">IO, LVDS31P</text>
<rect x="484.6" y="213.28" width="1.6" height="1" fill="#888"/>
<line x1="492" y1="213.5" x2="533.4" y2="213.5" stroke="#000" stroke-width="1"/>
<text class="t" transform="rotate(180 493.05 216.38)" x="490.3" y="218.18" font-size="5.14" textLength="5.5" lengthAdjust="spacingAndGlyphs">141</text>
<text class="s" transform="rotate(180 512.7 216.38)" x="506.8" y="218.18" font-size="5.14" textLength="11.8" lengthAdjust="spacingAndGlyphs">(IO11)</text>
<text class="r" transform="rotate(180 528.85 216.38)" x="525.3" y="218.08" font-size="4.86" textLength="7.1" lengthAdjust="spacingAndGlyphs">B4</text>
<text class="s" transform="rotate(180 418.25 218.86)" x="404" y="220.66" font-size="5.14" textLength="28.5" lengthAdjust="spacingAndGlyphs">(DQ1R2)</text>
<text class="s" transform="rotate(180 456.7 218.86)" x="435.6" y="220.66" font-size="5.14" textLength="42.2" lengthAdjust="spacingAndGlyphs">IO, LVDS32N</text>
<rect x="484.6" y="218.36" width="1.6" height="1" fill="#888"/>
<line x1="492" y1="218.5" x2="533.4" y2="218.5" stroke="#000" stroke-width="1"/>
<text class="t" transform="rotate(180 493.05 221.46)" x="490.3" y="223.26" font-size="5.14" textLength="5.5" lengthAdjust="spacingAndGlyphs">142</text>
<text class="s" transform="rotate(180 512.7 221.46)" x="506.8" y="223.26" font-size="5.14" textLength="11.8" lengthAdjust="spacingAndGlyphs">(IO12)</text>
<text class="r" transform="rotate(180 528.85 221.46)" x="525.3" y="223.16" font-size="4.86" textLength="7.1" lengthAdjust="spacingAndGlyphs">B4</text>
<text class="s" transform="rotate(180 418.25 223.94)" x="404" y="225.74" font-size="5.14" textLength="28.5" lengthAdjust="spacingAndGlyphs">(DQ1R3)</text>
<text class="s" transform="rotate(180 456.7 223.94)" x="435.6" y="225.74" font-size="5.14" textLength="42.2" lengthAdjust="spacingAndGlyphs">IO, LVDS33N</text>
<rect x="484.6" y="223.44" width="1.6" height="1" fill="#888"/>
<line x1="492" y1="223.5" x2="533.4" y2="223.5" stroke="#000" stroke-width="1"/>
<text class="t" transform="rotate(180 493.05 226.54)" x="490.3" y="228.34" font-size="5.14" textLength="5.5" lengthAdjust="spacingAndGlyphs">143</text>
<text class="s" transform="rotate(180 512.7 226.54)" x="506.8" y="228.34" font-size="5.14" textLength="11.8" lengthAdjust="spacingAndGlyphs">(IO13)</text>
<text class="r" transform="rotate(180 528.85 226.54)" x="525.3" y="228.24" font-size="4.86" textLength="7.1" lengthAdjust="spacingAndGlyphs">B4</text>
<text class="s" transform="rotate(180 418.25 229.02)" x="404" y="230.82" font-size="5.14" textLength="28.5" lengthAdjust="spacingAndGlyphs">(DQ1R4)</text>
<text class="s" transform="rotate(180 456.7 229.02)" x="435.6" y="230.82" font-size="5.14" textLength="42.2" lengthAdjust="spacingAndGlyphs">IO, LVDS34N</text>
<rect x="484.6" y="228.52" width="1.6" height="1" fill="#888"/>
<line x1="492" y1="229.5" x2="533.4" y2="229.5" stroke="#000" stroke-width="1"/>
<text class="t" transform="rotate(180 493.05 231.62)" x="490.3" y="233.42" font-size="5.14" textLength="5.5" lengthAdjust="spacingAndGlyphs">144</text>
<text class="s" transform="rotate(180 512.7 231.62)" x="506.8" y="233.42" font-size="5.14" textLength="11.8" lengthAdjust="spacingAndGlyphs">(IO14)</text>
<text class="r" transform="rotate(180 528.85 231.62)" x="525.3" y="233.32" font-size="4.86" textLength="7.1" lengthAdjust="spacingAndGlyphs">B4</text>
<text class="s" transform="rotate(180 418.25 234.1)" x="404" y="235.9" font-size="5.14" textLength="28.5" lengthAdjust="spacingAndGlyphs">(DQ1R5)</text>
<text class="s" transform="rotate(180 456.7 234.1)" x="435.6" y="235.9" font-size="5.14" textLength="42.2" lengthAdjust="spacingAndGlyphs">IO, LVDS35N</text>
<rect x="484.6" y="233.6" width="1.6" height="1" fill="#888"/>
<line x1="492" y1="234.5" x2="533.4" y2="234.5" stroke="#000" stroke-width="1"/>
<text class="t" transform="rotate(180 493.05 236.7)" x="490.3" y="238.5" font-size="5.14" textLength="5.5" lengthAdjust="spacingAndGlyphs">145</text>
<text class="s" transform="rotate(180 512.7 236.7)" x="506.8" y="238.5" font-size="5.14" textLength="11.8" lengthAdjust="spacingAndGlyphs">(IO15)</text>
<text class="r" transform="rotate(180 528.85 236.7)" x="525.3" y="238.4" font-size="4.86" textLength="7.1" lengthAdjust="spacingAndGlyphs">B4</text>
<text class="s" transform="rotate(180 419.35 239.18)" x="406.2" y="240.98" font-size="5.14" textLength="26.3" lengthAdjust="spacingAndGlyphs">(DQ1R6)</text>
<text class="s" transform="rotate(180 456.7 239.18)" x="435.6" y="240.98" font-size="5.14" textLength="42.2" lengthAdjust="spacingAndGlyphs">IO, LVDS36N</text>
<rect x="484.6" y="238.68" width="1.6" height="1" fill="#888"/>
<line x1="492" y1="239.5" x2="533.4" y2="239.5" stroke="#000" stroke-width="1"/>
<text class="t" transform="rotate(180 493.05 241.78)" x="490.3" y="243.58" font-size="5.14" textLength="5.5" lengthAdjust="spacingAndGlyphs">146</text>
<text class="s" transform="rotate(180 512.7 241.78)" x="506.8" y="243.58" font-size="5.14" textLength="11.8" lengthAdjust="spacingAndGlyphs">(IO16)</text>
<text class="r" transform="rotate(180 528.85 241.78)" x="525.3" y="243.48" font-size="4.86" textLength="7.1" lengthAdjust="spacingAndGlyphs">B4</text>
<text class="s" transform="rotate(180 457.75 244.26)" x="437.7" y="246.06" font-size="5.14" textLength="40.1" lengthAdjust="spacingAndGlyphs">IO, LVDS37P</text>
<rect x="484.6" y="243.76" width="1.6" height="1" fill="#888"/>
<line x1="492" y1="244.5" x2="533.4" y2="244.5" stroke="#000" stroke-width="1"/>
<text class="t" transform="rotate(180 493.05 246.86)" x="490.3" y="248.66" font-size="5.14" textLength="5.5" lengthAdjust="spacingAndGlyphs">147</text>
<text class="s" transform="rotate(180 512.7 246.86)" x="506.8" y="248.66" font-size="5.14" textLength="11.8" lengthAdjust="spacingAndGlyphs">(IO17)</text>
<text class="r" transform="rotate(180 528.85 246.86)" x="525.3" y="248.56" font-size="4.86" textLength="7.1" lengthAdjust="spacingAndGlyphs">B4</text>
<text class="s" transform="rotate(180 474.65 249.34)" x="471.5" y="251.14" font-size="5.14" textLength="6.3" lengthAdjust="spacingAndGlyphs">IO</text>
<rect x="484.6" y="248.84" width="1.6" height="1" fill="#888"/>
<line x1="492" y1="249.5" x2="533.4" y2="249.5" stroke="#000" stroke-width="1"/>
<text class="t" transform="rotate(180 493.05 251.94)" x="490.3" y="253.74" font-size="5.14" textLength="5.5" lengthAdjust="spacingAndGlyphs">148</text>
<text class="s" transform="rotate(180 512.7 251.94)" x="506.8" y="253.74" font-size="5.14" textLength="11.8" lengthAdjust="spacingAndGlyphs">(IO18)</text>
<text class="r" transform="rotate(180 528.85 251.94)" x="525.3" y="253.64" font-size="4.86" textLength="7.1" lengthAdjust="spacingAndGlyphs">B4</text>
<text class="s" transform="rotate(180 457 254.42)" x="436.2" y="256.22" font-size="5.14" textLength="41.6" lengthAdjust="spacingAndGlyphs">IO, LVDS39P</text>
<rect x="484.6" y="253.92" width="1.6" height="1" fill="#888"/>
<line x1="492" y1="254.5" x2="533.4" y2="254.5" stroke="#000" stroke-width="1"/>
<text class="t" transform="rotate(180 493.05 257.02)" x="490.3" y="258.82" font-size="5.14" textLength="5.5" lengthAdjust="spacingAndGlyphs">149</text>
<text class="s" transform="rotate(180 512.7 257.02)" x="506.8" y="258.82" font-size="5.14" textLength="11.8" lengthAdjust="spacingAndGlyphs">(IO19)</text>
<text class="r" transform="rotate(180 528.85 257.02)" x="525.3" y="258.72" font-size="4.86" textLength="7.1" lengthAdjust="spacingAndGlyphs">B4</text>
<text class="s" transform="rotate(180 457 259.5)" x="436.2" y="261.3" font-size="5.14" textLength="41.6" lengthAdjust="spacingAndGlyphs">IO, LVDS40P</text>
<rect x="484.6" y="259" width="1.6" height="1" fill="#888"/>
<line x1="492" y1="259.5" x2="533.4" y2="259.5" stroke="#000" stroke-width="1"/>
<text class="t" transform="rotate(180 493.05 262.1)" x="490.3" y="263.9" font-size="5.14" textLength="5.5" lengthAdjust="spacingAndGlyphs">150</text>
<text class="s" transform="rotate(180 512.7 262.1)" x="506.8" y="263.9" font-size="5.14" textLength="11.8" lengthAdjust="spacingAndGlyphs">(IO20)</text>
<text class="r" transform="rotate(180 528.85 262.1)" x="525.3" y="263.8" font-size="4.86" textLength="7.1" lengthAdjust="spacingAndGlyphs">B4</text>
<text class="s" transform="rotate(180 457 264.58)" x="436.2" y="266.38" font-size="5.14" textLength="41.6" lengthAdjust="spacingAndGlyphs">IO, LVDS41P</text>
<rect x="484.6" y="264.08" width="1.6" height="1" fill="#888"/>
<line x1="492" y1="264.5" x2="533.4" y2="264.5" stroke="#000" stroke-width="1"/>
<text class="t" transform="rotate(180 493.05 267.18)" x="490.3" y="268.98" font-size="5.14" textLength="5.5" lengthAdjust="spacingAndGlyphs">151</text>
<text class="s" transform="rotate(180 512.7 267.18)" x="506.8" y="268.98" font-size="5.14" textLength="11.8" lengthAdjust="spacingAndGlyphs">(IO21)</text>
<text class="r" transform="rotate(180 528.85 267.18)" x="525.3" y="268.88" font-size="4.86" textLength="7.1" lengthAdjust="spacingAndGlyphs">B4</text>
<text class="s" transform="rotate(180 457 269.66)" x="436.2" y="271.46" font-size="5.14" textLength="41.6" lengthAdjust="spacingAndGlyphs">IO, LVDS42P</text>
<rect x="484.6" y="269.16" width="1.6" height="1" fill="#888"/>
<line x1="492" y1="269.5" x2="533.4" y2="269.5" stroke="#000" stroke-width="1"/>
<text class="t" transform="rotate(180 493.05 272.26)" x="490.3" y="274.06" font-size="5.14" textLength="5.5" lengthAdjust="spacingAndGlyphs">152</text>
<text class="s" transform="rotate(180 512.7 272.26)" x="506.8" y="274.06" font-size="5.14" textLength="11.8" lengthAdjust="spacingAndGlyphs">(IO22)</text>
<text class="r" transform="rotate(180 528.85 272.26)" x="525.3" y="273.96" font-size="4.86" textLength="7.1" lengthAdjust="spacingAndGlyphs">B4</text>
<text class="s" transform="rotate(180 457.15 274.74)" x="436.5" y="276.54" font-size="5.14" textLength="41.3" lengthAdjust="spacingAndGlyphs">IO, LVDS43P</text>
<rect x="484.6" y="274.24" width="1.6" height="1" fill="#888"/>
<line x1="492" y1="274.5" x2="533.4" y2="274.5" stroke="#000" stroke-width="1"/>
<text class="t" transform="rotate(180 493.05 277.34)" x="490.3" y="279.14" font-size="5.14" textLength="5.5" lengthAdjust="spacingAndGlyphs">153</text>
<text class="s" transform="rotate(180 512.7 277.34)" x="506.8" y="279.14" font-size="5.14" textLength="11.8" lengthAdjust="spacingAndGlyphs">(IO23)</text>
<text class="r" transform="rotate(180 528.85 277.34)" x="525.3" y="279.04" font-size="4.86" textLength="7.1" lengthAdjust="spacingAndGlyphs">B4</text>
<text class="s" transform="rotate(180 457.15 279.82)" x="436.5" y="281.62" font-size="5.14" textLength="41.3" lengthAdjust="spacingAndGlyphs">IO, LVDS44P</text>
<rect x="484.6" y="279.32" width="1.6" height="1" fill="#888"/>
<line x1="492" y1="279.5" x2="533.4" y2="279.5" stroke="#000" stroke-width="1"/>
<text class="t" transform="rotate(180 493.05 282.42)" x="490.3" y="284.22" font-size="5.14" textLength="5.5" lengthAdjust="spacingAndGlyphs">154</text>
<text class="s" transform="rotate(180 512.7 282.42)" x="506.8" y="284.22" font-size="5.14" textLength="11.8" lengthAdjust="spacingAndGlyphs">(IO24)</text>
<text class="r" transform="rotate(180 528.85 282.42)" x="525.3" y="284.12" font-size="4.86" textLength="7.1" lengthAdjust="spacingAndGlyphs">B4</text>
<text class="s" transform="rotate(180 457.25 284.9)" x="436.7" y="286.7" font-size="5.14" textLength="41.1" lengthAdjust="spacingAndGlyphs">IO, LVDS45P</text>
<rect x="484.6" y="284.4" width="1.6" height="1" fill="#888"/>
<line x1="492" y1="284.5" x2="533.4" y2="284.5" stroke="#000" stroke-width="1"/>
<text class="t" transform="rotate(180 493.05 287.5)" x="490.3" y="289.3" font-size="5.14" textLength="5.5" lengthAdjust="spacingAndGlyphs">155</text>
<text class="s" transform="rotate(180 512.7 287.5)" x="506.8" y="289.3" font-size="5.14" textLength="11.8" lengthAdjust="spacingAndGlyphs">(IO25)</text>
<text class="r" transform="rotate(180 528.85 287.5)" x="525.3" y="289.2" font-size="4.86" textLength="7.1" lengthAdjust="spacingAndGlyphs">B4</text>
<text class="s" transform="rotate(180 419.9 289.98)" x="407.3" y="291.78" font-size="5.14" textLength="25.2" lengthAdjust="spacingAndGlyphs">(DQ1R16)</text>
<text class="s" transform="rotate(180 456.7 289.98)" x="435.6" y="291.78" font-size="5.14" textLength="42.2" lengthAdjust="spacingAndGlyphs">IO, LVDS46N</text>
<rect x="484.6" y="289.48" width="1.6" height="1" fill="#888"/>
<line x1="492" y1="289.5" x2="533.4" y2="289.5" stroke="#000" stroke-width="1"/>
<text class="t" transform="rotate(180 493.05 292.58)" x="490.3" y="294.38" font-size="5.14" textLength="5.5" lengthAdjust="spacingAndGlyphs">156</text>
<text class="s" transform="rotate(180 512.7 292.58)" x="506.8" y="294.38" font-size="5.14" textLength="11.8" lengthAdjust="spacingAndGlyphs">(IO26)</text>
<text class="r" transform="rotate(180 528.85 292.58)" x="525.3" y="294.28" font-size="4.86" textLength="7.1" lengthAdjust="spacingAndGlyphs">B4</text>
<text class="s" transform="rotate(180 457.25 295.06)" x="436.7" y="296.86" font-size="5.14" textLength="41.1" lengthAdjust="spacingAndGlyphs">IO, LVDS47P</text>
<rect x="484.6" y="294.56" width="1.6" height="1" fill="#888"/>
<line x1="492" y1="295.5" x2="533.4" y2="295.5" stroke="#000" stroke-width="1"/>
<text class="t" transform="rotate(180 493.05 297.66)" x="490.3" y="299.46" font-size="5.14" textLength="5.5" lengthAdjust="spacingAndGlyphs">157</text>
<text class="s" transform="rotate(180 512.7 297.66)" x="506.8" y="299.46" font-size="5.14" textLength="11.8" lengthAdjust="spacingAndGlyphs">(IO27)</text>
<text class="r" transform="rotate(180 528.85 297.66)" x="525.3" y="299.36" font-size="4.86" textLength="7.1" lengthAdjust="spacingAndGlyphs">B4</text>
<text class="s" transform="rotate(180 457.25 300.14)" x="436.7" y="301.94" font-size="5.14" textLength="41.1" lengthAdjust="spacingAndGlyphs">IO, LVDS48P</text>
<rect x="484.6" y="299.64" width="1.6" height="1" fill="#888"/>
<line x1="492" y1="300.5" x2="533.4" y2="300.5" stroke="#000" stroke-width="1"/>
<text class="t" transform="rotate(180 493.05 302.74)" x="490.3" y="304.54" font-size="5.14" textLength="5.5" lengthAdjust="spacingAndGlyphs">158</text>
<text class="s" transform="rotate(180 512.7 302.74)" x="506.8" y="304.54" font-size="5.14" textLength="11.8" lengthAdjust="spacingAndGlyphs">(IO28)</text>
<text class="r" transform="rotate(180 528.85 302.74)" x="525.3" y="304.44" font-size="4.86" textLength="7.1" lengthAdjust="spacingAndGlyphs">B4</text>
<text class="s" transform="rotate(180 457.25 305.22)" x="436.7" y="307.02" font-size="5.14" textLength="41.1" lengthAdjust="spacingAndGlyphs">IO, LVDS49P</text>
<rect x="484.6" y="304.72" width="1.6" height="1" fill="#888"/>
<line x1="492" y1="305.5" x2="533.4" y2="305.5" stroke="#000" stroke-width="1"/>
<text class="t" transform="rotate(180 493.05 307.82)" x="490.3" y="309.62" font-size="5.14" textLength="5.5" lengthAdjust="spacingAndGlyphs">159</text>
<text class="s" transform="rotate(180 512.7 307.82)" x="506.8" y="309.62" font-size="5.14" textLength="11.8" lengthAdjust="spacingAndGlyphs">(IO29)</text>
<text class="r" transform="rotate(180 528.85 307.82)" x="525.3" y="309.52" font-size="4.86" textLength="7.1" lengthAdjust="spacingAndGlyphs">B4</text>
<text class="s" transform="rotate(180 457.25 310.3)" x="436.7" y="312.1" font-size="5.14" textLength="41.1" lengthAdjust="spacingAndGlyphs">IO, LVDS50P</text>
<rect x="484.6" y="309.8" width="1.6" height="1" fill="#888"/>
<line x1="492" y1="310.5" x2="533.4" y2="310.5" stroke="#000" stroke-width="1"/>
<text class="t" transform="rotate(180 493.05 312.9)" x="490.3" y="314.7" font-size="5.14" textLength="5.5" lengthAdjust="spacingAndGlyphs">160</text>
<text class="s" transform="rotate(180 512.7 312.9)" x="506.8" y="314.7" font-size="5.14" textLength="11.8" lengthAdjust="spacingAndGlyphs">(IO30)</text>
<text class="r" transform="rotate(180 528.85 312.9)" x="525.3" y="314.6" font-size="4.86" textLength="7.1" lengthAdjust="spacingAndGlyphs">B4</text>
<text class="s" transform="rotate(180 419.05 315.38)" x="405.6" y="317.18" font-size="5.14" textLength="26.9" lengthAdjust="spacingAndGlyphs">(DQ1R21)</text>
<text class="s" transform="rotate(180 456.7 315.38)" x="435.6" y="317.18" font-size="5.14" textLength="42.2" lengthAdjust="spacingAndGlyphs">IO, LVDS51N</text>
<rect x="484.6" y="314.88" width="1.6" height="1" fill="#888"/>
<line x1="492" y1="315.5" x2="533.4" y2="315.5" stroke="#000" stroke-width="1"/>
<text class="t" transform="rotate(180 493.05 317.98)" x="490.3" y="319.78" font-size="5.14" textLength="5.5" lengthAdjust="spacingAndGlyphs">161</text>
<text class="s" transform="rotate(180 512.7 317.98)" x="506.8" y="319.78" font-size="5.14" textLength="11.8" lengthAdjust="spacingAndGlyphs">(IO31)</text>
<text class="r" transform="rotate(180 528.85 317.98)" x="525.3" y="319.68" font-size="4.86" textLength="7.1" lengthAdjust="spacingAndGlyphs">B4</text>
<text class="s" transform="rotate(180 419.05 320.46)" x="405.6" y="322.26" font-size="5.14" textLength="26.9" lengthAdjust="spacingAndGlyphs">(DQ1R22)</text>
<text class="s" transform="rotate(180 456.7 320.46)" x="435.6" y="322.26" font-size="5.14" textLength="42.2" lengthAdjust="spacingAndGlyphs">IO, LVDS52N</text>
<rect x="484.6" y="319.96" width="1.6" height="1" fill="#888"/>
<line x1="492" y1="320.5" x2="533.4" y2="320.5" stroke="#000" stroke-width="1"/>
<text class="t" transform="rotate(180 493.05 323.06)" x="490.3" y="324.86" font-size="5.14" textLength="5.5" lengthAdjust="spacingAndGlyphs">162</text>
<text class="s" transform="rotate(180 512.7 323.06)" x="506.8" y="324.86" font-size="5.14" textLength="11.8" lengthAdjust="spacingAndGlyphs">(IO32)</text>
<text class="r" transform="rotate(180 528.85 323.06)" x="525.3" y="324.76" font-size="4.86" textLength="7.1" lengthAdjust="spacingAndGlyphs">B4</text>
<text class="s" transform="rotate(180 419.05 325.54)" x="405.6" y="327.34" font-size="5.14" textLength="26.9" lengthAdjust="spacingAndGlyphs">(DQ1R23)</text>
<text class="s" transform="rotate(180 456.7 325.54)" x="435.6" y="327.34" font-size="5.14" textLength="42.2" lengthAdjust="spacingAndGlyphs">IO, LVDS53N</text>
<rect x="484.6" y="325.04" width="1.6" height="1" fill="#888"/>
<line x1="492" y1="325.5" x2="533.4" y2="325.5" stroke="#000" stroke-width="1"/>
<text class="t" transform="rotate(180 493.05 328.14)" x="490.3" y="329.94" font-size="5.14" textLength="5.5" lengthAdjust="spacingAndGlyphs">163</text>
<text class="s" transform="rotate(180 512.7 328.14)" x="506.8" y="329.94" font-size="5.14" textLength="11.8" lengthAdjust="spacingAndGlyphs">(IO33)</text>
<text class="r" transform="rotate(180 528.85 328.14)" x="525.3" y="329.84" font-size="4.86" textLength="7.1" lengthAdjust="spacingAndGlyphs">B4</text>
<text class="s" transform="rotate(180 419.05 330.62)" x="405.6" y="332.42" font-size="5.14" textLength="26.9" lengthAdjust="spacingAndGlyphs">(DQ1R24)</text>
<text class="s" transform="rotate(180 456.7 330.62)" x="435.6" y="332.42" font-size="5.14" textLength="42.2" lengthAdjust="spacingAndGlyphs">IO, LVDS54N</text>
<rect x="484.6" y="330.12" width="1.6" height="1" fill="#888"/>
<line x1="492" y1="330.5" x2="533.4" y2="330.5" stroke="#000" stroke-width="1"/>
<text class="t" transform="rotate(180 493.05 333.22)" x="490.3" y="335.02" font-size="5.14" textLength="5.5" lengthAdjust="spacingAndGlyphs">164</text>
<text class="s" transform="rotate(180 512.7 333.22)" x="506.8" y="335.02" font-size="5.14" textLength="11.8" lengthAdjust="spacingAndGlyphs">(IO34)</text>
<text class="r" transform="rotate(180 528.85 333.22)" x="525.3" y="334.92" font-size="4.86" textLength="7.1" lengthAdjust="spacingAndGlyphs">B4</text>
<text class="s" transform="rotate(180 419.05 335.7)" x="405.6" y="337.5" font-size="5.14" textLength="26.9" lengthAdjust="spacingAndGlyphs">(DQ1R25)</text>
<text class="s" transform="rotate(180 456.7 335.7)" x="435.6" y="337.5" font-size="5.14" textLength="42.2" lengthAdjust="spacingAndGlyphs">IO, LVDS55N</text>
<rect x="484.6" y="335.2" width="1.6" height="1" fill="#888"/>
<line x1="492" y1="335.5" x2="533.4" y2="335.5" stroke="#000" stroke-width="1"/>
<text class="t" transform="rotate(180 493.05 338.3)" x="490.3" y="340.1" font-size="5.14" textLength="5.5" lengthAdjust="spacingAndGlyphs">165</text>
<text class="s" transform="rotate(180 512.7 338.3)" x="506.8" y="340.1" font-size="5.14" textLength="11.8" lengthAdjust="spacingAndGlyphs">(IO35)</text>
<text class="r" transform="rotate(180 528.85 338.3)" x="525.3" y="340" font-size="4.86" textLength="7.1" lengthAdjust="spacingAndGlyphs">B4</text>
<text class="s" transform="rotate(180 457.25 340.78)" x="436.7" y="342.58" font-size="5.14" textLength="41.1" lengthAdjust="spacingAndGlyphs">IO, LVDS56P</text>
<rect x="484.6" y="340.28" width="1.6" height="1" fill="#888"/>
<line x1="492" y1="340.5" x2="533.4" y2="340.5" stroke="#000" stroke-width="1"/>
<text class="t" transform="rotate(180 493.05 343.38)" x="490.3" y="345.18" font-size="5.14" textLength="5.5" lengthAdjust="spacingAndGlyphs">166</text>
<text class="s" transform="rotate(180 512.7 343.38)" x="506.8" y="345.18" font-size="5.14" textLength="11.8" lengthAdjust="spacingAndGlyphs">(IO36)</text>
<text class="r" transform="rotate(180 528.85 343.38)" x="525.3" y="345.08" font-size="4.86" textLength="7.1" lengthAdjust="spacingAndGlyphs">B4</text>
<text class="s" transform="rotate(180 457.25 345.86)" x="436.7" y="347.66" font-size="5.14" textLength="41.1" lengthAdjust="spacingAndGlyphs">IO, LVDS57P</text>
<rect x="484.6" y="345.36" width="1.6" height="1" fill="#888"/>
<line x1="492" y1="345.5" x2="533.4" y2="345.5" stroke="#000" stroke-width="1"/>
<text class="t" transform="rotate(180 493.05 348.46)" x="490.3" y="350.26" font-size="5.14" textLength="5.5" lengthAdjust="spacingAndGlyphs">167</text>
<text class="s" transform="rotate(180 512.7 348.46)" x="506.8" y="350.26" font-size="5.14" textLength="11.8" lengthAdjust="spacingAndGlyphs">(IO37)</text>
<text class="r" transform="rotate(180 528.85 348.46)" x="525.3" y="350.16" font-size="4.86" textLength="7.1" lengthAdjust="spacingAndGlyphs">B4</text>
<line x1="520.5" y1="208.7" x2="520.5" y2="350" stroke="#000" stroke-width="1"/>
<line x1="533.5" y1="208.7" x2="533.5" y2="350" stroke="#000" stroke-width="1"/>
</svg>
</body></html>
